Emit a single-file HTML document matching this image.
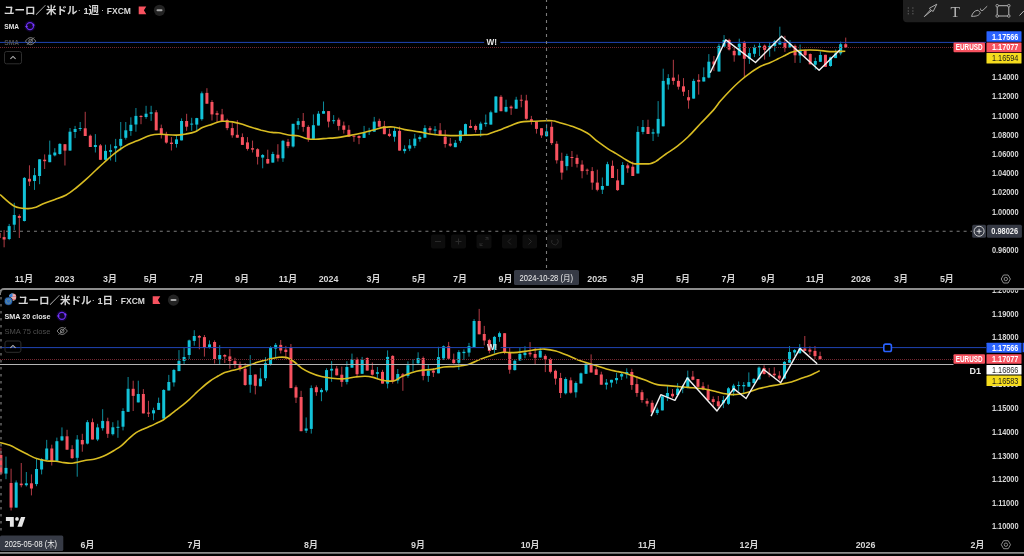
<!DOCTYPE html>
<html><head><meta charset="utf-8"><title>EURUSD</title>
<style>html,body{margin:0;padding:0;background:#000;width:1024px;height:556px;overflow:hidden} svg{display:block;will-change:transform}</style>
</head><body>
<svg width="1024" height="556" viewBox="0 0 1024 556" font-family="'Liberation Sans', 'Noto Sans CJK JP', sans-serif">
<rect width="1024" height="556" fill="#000"/>
<g clip-path="url(#cTop)">
<line x1="-0.96" y1="228.0" x2="-0.96" y2="240.0" stroke="#f7525f" stroke-width="1" stroke-opacity="0.72"/>
<rect x="-2.46" y="233.0" width="3" height="5.0" fill="#f7525f"/>
<line x1="4.11" y1="230.1" x2="4.11" y2="247.3" stroke="#f7525f" stroke-width="1" stroke-opacity="0.72"/>
<rect x="2.61" y="237.1" width="3" height="2.4" fill="#f7525f"/>
<line x1="9.18" y1="223.9" x2="9.18" y2="240.1" stroke="#12c2d8" stroke-width="1" stroke-opacity="0.72"/>
<rect x="7.68" y="226.1" width="3" height="12.9" fill="#12c2d8"/>
<line x1="14.25" y1="202.8" x2="14.25" y2="230.1" stroke="#12c2d8" stroke-width="1" stroke-opacity="0.72"/>
<rect x="12.75" y="215.0" width="3" height="9.7" fill="#12c2d8"/>
<line x1="19.32" y1="214.4" x2="19.32" y2="238.0" stroke="#f7525f" stroke-width="1" stroke-opacity="0.72"/>
<rect x="17.82" y="216.0" width="3" height="1.9" fill="#f7525f"/>
<line x1="24.39" y1="177.0" x2="24.39" y2="221.5" stroke="#12c2d8" stroke-width="1" stroke-opacity="0.72"/>
<rect x="22.89" y="177.9" width="3" height="43.1" fill="#12c2d8"/>
<line x1="29.46" y1="165.3" x2="29.46" y2="186.0" stroke="#f7525f" stroke-width="1" stroke-opacity="0.72"/>
<rect x="27.96" y="178.8" width="3" height="2.7" fill="#f7525f"/>
<line x1="34.53" y1="168.0" x2="34.53" y2="189.9" stroke="#12c2d8" stroke-width="1" stroke-opacity="0.72"/>
<rect x="33.03" y="175.2" width="3" height="5.8" fill="#12c2d8"/>
<line x1="39.60" y1="159.3" x2="39.60" y2="184.2" stroke="#12c2d8" stroke-width="1" stroke-opacity="0.72"/>
<rect x="38.10" y="159.3" width="3" height="16.7" fill="#12c2d8"/>
<line x1="44.67" y1="154.4" x2="44.67" y2="169.0" stroke="#f7525f" stroke-width="1" stroke-opacity="0.72"/>
<rect x="43.17" y="159.7" width="3" height="1.5" fill="#f7525f"/>
<line x1="49.74" y1="140.6" x2="49.74" y2="162.2" stroke="#12c2d8" stroke-width="1" stroke-opacity="0.72"/>
<rect x="48.24" y="154.7" width="3" height="7.5" fill="#12c2d8"/>
<line x1="54.81" y1="148.2" x2="54.81" y2="156.4" stroke="#12c2d8" stroke-width="1" stroke-opacity="0.72"/>
<rect x="53.31" y="152.5" width="3" height="2.9" fill="#12c2d8"/>
<line x1="59.88" y1="143.2" x2="59.88" y2="154.7" stroke="#12c2d8" stroke-width="1" stroke-opacity="0.72"/>
<rect x="58.38" y="143.9" width="3" height="10.1" fill="#12c2d8"/>
<line x1="64.95" y1="144.2" x2="64.95" y2="165.5" stroke="#f7525f" stroke-width="1" stroke-opacity="0.72"/>
<rect x="63.45" y="144.2" width="3" height="6.4" fill="#f7525f"/>
<line x1="70.02" y1="128.0" x2="70.02" y2="150.6" stroke="#12c2d8" stroke-width="1" stroke-opacity="0.72"/>
<rect x="68.52" y="131.7" width="3" height="18.9" fill="#12c2d8"/>
<line x1="75.09" y1="125.9" x2="75.09" y2="138.1" stroke="#12c2d8" stroke-width="1" stroke-opacity="0.72"/>
<rect x="73.59" y="129.0" width="3" height="3.0" fill="#12c2d8"/>
<line x1="80.16" y1="122.0" x2="80.16" y2="131.0" stroke="#12c2d8" stroke-width="1" stroke-opacity="0.72"/>
<rect x="78.66" y="128.0" width="3" height="1.0" fill="#12c2d8"/>
<line x1="85.23" y1="111.8" x2="85.23" y2="136.0" stroke="#f7525f" stroke-width="1" stroke-opacity="0.72"/>
<rect x="83.73" y="128.3" width="3" height="7.7" fill="#f7525f"/>
<line x1="90.30" y1="134.5" x2="90.30" y2="147.0" stroke="#f7525f" stroke-width="1" stroke-opacity="0.72"/>
<rect x="88.80" y="135.7" width="3" height="11.3" fill="#f7525f"/>
<line x1="95.37" y1="134.1" x2="95.37" y2="152.5" stroke="#12c2d8" stroke-width="1" stroke-opacity="0.72"/>
<rect x="93.87" y="145.0" width="3" height="2.0" fill="#12c2d8"/>
<line x1="100.44" y1="144.0" x2="100.44" y2="159.8" stroke="#f7525f" stroke-width="1" stroke-opacity="0.72"/>
<rect x="98.94" y="145.4" width="3" height="14.4" fill="#f7525f"/>
<line x1="105.51" y1="144.7" x2="105.51" y2="160.5" stroke="#12c2d8" stroke-width="1" stroke-opacity="0.72"/>
<rect x="104.01" y="150.9" width="3" height="8.9" fill="#12c2d8"/>
<line x1="110.58" y1="144.4" x2="110.58" y2="160.5" stroke="#12c2d8" stroke-width="1" stroke-opacity="0.72"/>
<rect x="109.08" y="150.1" width="3" height="1.8" fill="#12c2d8"/>
<line x1="115.65" y1="138.9" x2="115.65" y2="161.9" stroke="#12c2d8" stroke-width="1" stroke-opacity="0.72"/>
<rect x="114.15" y="146.1" width="3" height="2.2" fill="#12c2d8"/>
<line x1="120.72" y1="122.0" x2="120.72" y2="150.4" stroke="#12c2d8" stroke-width="1" stroke-opacity="0.72"/>
<rect x="119.22" y="138.9" width="3" height="6.9" fill="#12c2d8"/>
<line x1="125.79" y1="122.0" x2="125.79" y2="139.6" stroke="#12c2d8" stroke-width="1" stroke-opacity="0.72"/>
<rect x="124.29" y="130.3" width="3" height="7.5" fill="#12c2d8"/>
<line x1="130.86" y1="117.3" x2="130.86" y2="135.8" stroke="#12c2d8" stroke-width="1" stroke-opacity="0.72"/>
<rect x="129.36" y="124.8" width="3" height="6.2" fill="#12c2d8"/>
<line x1="135.93" y1="108.0" x2="135.93" y2="131.7" stroke="#12c2d8" stroke-width="1" stroke-opacity="0.72"/>
<rect x="134.43" y="115.9" width="3" height="8.6" fill="#12c2d8"/>
<line x1="141.00" y1="115.2" x2="141.00" y2="124.2" stroke="#f7525f" stroke-width="1" stroke-opacity="0.72"/>
<rect x="139.50" y="115.9" width="3" height="1.1" fill="#f7525f"/>
<line x1="146.07" y1="105.8" x2="146.07" y2="118.8" stroke="#12c2d8" stroke-width="1" stroke-opacity="0.72"/>
<rect x="144.57" y="113.7" width="3" height="3.3" fill="#12c2d8"/>
<line x1="151.14" y1="105.8" x2="151.14" y2="120.9" stroke="#12c2d8" stroke-width="1" stroke-opacity="0.72"/>
<rect x="149.64" y="112.3" width="3" height="1.4" fill="#12c2d8"/>
<line x1="156.21" y1="110.1" x2="156.21" y2="130.3" stroke="#f7525f" stroke-width="1" stroke-opacity="0.72"/>
<rect x="154.71" y="112.3" width="3" height="18.0" fill="#f7525f"/>
<line x1="161.28" y1="124.6" x2="161.28" y2="138.5" stroke="#f7525f" stroke-width="1" stroke-opacity="0.72"/>
<rect x="159.78" y="128.2" width="3" height="6.4" fill="#f7525f"/>
<line x1="166.35" y1="131.8" x2="166.35" y2="143.7" stroke="#f7525f" stroke-width="1" stroke-opacity="0.72"/>
<rect x="164.85" y="133.9" width="3" height="8.7" fill="#f7525f"/>
<line x1="171.42" y1="137.1" x2="171.42" y2="150.5" stroke="#f7525f" stroke-width="1" stroke-opacity="0.72"/>
<rect x="169.92" y="142.6" width="3" height="1.4" fill="#f7525f"/>
<line x1="176.49" y1="135.6" x2="176.49" y2="147.6" stroke="#12c2d8" stroke-width="1" stroke-opacity="0.72"/>
<rect x="174.99" y="139.4" width="3" height="4.6" fill="#12c2d8"/>
<line x1="181.56" y1="118.4" x2="181.56" y2="140.4" stroke="#12c2d8" stroke-width="1" stroke-opacity="0.72"/>
<rect x="180.06" y="121.0" width="3" height="19.4" fill="#12c2d8"/>
<line x1="186.63" y1="113.8" x2="186.63" y2="130.8" stroke="#f7525f" stroke-width="1" stroke-opacity="0.72"/>
<rect x="185.13" y="121.0" width="3" height="5.7" fill="#f7525f"/>
<line x1="191.70" y1="117.8" x2="191.70" y2="130.8" stroke="#12c2d8" stroke-width="1" stroke-opacity="0.72"/>
<rect x="190.20" y="123.6" width="3" height="1.0" fill="#12c2d8"/>
<line x1="196.77" y1="117.8" x2="196.77" y2="130.8" stroke="#12c2d8" stroke-width="1" stroke-opacity="0.72"/>
<rect x="195.27" y="118.1" width="3" height="6.5" fill="#12c2d8"/>
<line x1="201.84" y1="91.5" x2="201.84" y2="120.7" stroke="#12c2d8" stroke-width="1" stroke-opacity="0.72"/>
<rect x="200.34" y="93.3" width="3" height="25.9" fill="#12c2d8"/>
<line x1="206.91" y1="88.2" x2="206.91" y2="103.7" stroke="#f7525f" stroke-width="1" stroke-opacity="0.72"/>
<rect x="205.41" y="92.9" width="3" height="10.8" fill="#f7525f"/>
<line x1="211.98" y1="100.1" x2="211.98" y2="120.5" stroke="#f7525f" stroke-width="1" stroke-opacity="0.72"/>
<rect x="210.48" y="102.0" width="3" height="12.4" fill="#f7525f"/>
<line x1="217.05" y1="110.8" x2="217.05" y2="122.7" stroke="#f7525f" stroke-width="1" stroke-opacity="0.72"/>
<rect x="215.55" y="113.2" width="3" height="1.6" fill="#f7525f"/>
<line x1="222.12" y1="108.9" x2="222.12" y2="121.3" stroke="#f7525f" stroke-width="1" stroke-opacity="0.72"/>
<rect x="220.62" y="114.4" width="3" height="6.9" fill="#f7525f"/>
<line x1="227.19" y1="118.7" x2="227.19" y2="130.2" stroke="#f7525f" stroke-width="1" stroke-opacity="0.72"/>
<rect x="225.69" y="120.1" width="3" height="8.0" fill="#f7525f"/>
<line x1="232.26" y1="122.3" x2="232.26" y2="137.7" stroke="#f7525f" stroke-width="1" stroke-opacity="0.72"/>
<rect x="230.76" y="128.1" width="3" height="7.2" fill="#f7525f"/>
<line x1="237.33" y1="120.1" x2="237.33" y2="137.7" stroke="#f7525f" stroke-width="1" stroke-opacity="0.72"/>
<rect x="235.83" y="134.8" width="3" height="2.9" fill="#f7525f"/>
<line x1="242.40" y1="133.4" x2="242.40" y2="144.9" stroke="#f7525f" stroke-width="1" stroke-opacity="0.72"/>
<rect x="240.90" y="137.1" width="3" height="7.8" fill="#f7525f"/>
<line x1="247.47" y1="137.1" x2="247.47" y2="150.6" stroke="#f7525f" stroke-width="1" stroke-opacity="0.72"/>
<rect x="245.97" y="142.4" width="3" height="6.5" fill="#f7525f"/>
<line x1="252.54" y1="140.6" x2="252.54" y2="152.5" stroke="#f7525f" stroke-width="1" stroke-opacity="0.72"/>
<rect x="251.04" y="148.2" width="3" height="1.4" fill="#f7525f"/>
<line x1="257.61" y1="148.2" x2="257.61" y2="164.5" stroke="#f7525f" stroke-width="1" stroke-opacity="0.72"/>
<rect x="256.11" y="149.2" width="3" height="7.6" fill="#f7525f"/>
<line x1="262.68" y1="154.0" x2="262.68" y2="168.3" stroke="#12c2d8" stroke-width="1" stroke-opacity="0.72"/>
<rect x="261.18" y="155.0" width="3" height="2.6" fill="#12c2d8"/>
<line x1="267.75" y1="149.7" x2="267.75" y2="163.8" stroke="#f7525f" stroke-width="1" stroke-opacity="0.72"/>
<rect x="266.25" y="159.0" width="3" height="4.5" fill="#f7525f"/>
<line x1="272.82" y1="151.8" x2="272.82" y2="162.6" stroke="#12c2d8" stroke-width="1" stroke-opacity="0.72"/>
<rect x="271.32" y="154.0" width="3" height="8.6" fill="#12c2d8"/>
<line x1="277.89" y1="144.2" x2="277.89" y2="161.5" stroke="#f7525f" stroke-width="1" stroke-opacity="0.72"/>
<rect x="276.39" y="154.7" width="3" height="3.6" fill="#f7525f"/>
<line x1="282.96" y1="139.9" x2="282.96" y2="161.9" stroke="#12c2d8" stroke-width="1" stroke-opacity="0.72"/>
<rect x="281.46" y="140.8" width="3" height="17.5" fill="#12c2d8"/>
<line x1="288.03" y1="138.9" x2="288.03" y2="148.2" stroke="#f7525f" stroke-width="1" stroke-opacity="0.72"/>
<rect x="286.53" y="141.8" width="3" height="4.3" fill="#f7525f"/>
<line x1="293.10" y1="123.8" x2="293.10" y2="147.5" stroke="#12c2d8" stroke-width="1" stroke-opacity="0.72"/>
<rect x="291.60" y="123.8" width="3" height="22.7" fill="#12c2d8"/>
<line x1="298.17" y1="118.0" x2="298.17" y2="129.5" stroke="#12c2d8" stroke-width="1" stroke-opacity="0.72"/>
<rect x="296.67" y="121.2" width="3" height="3.7" fill="#12c2d8"/>
<line x1="303.24" y1="113.0" x2="303.24" y2="131.7" stroke="#f7525f" stroke-width="1" stroke-opacity="0.72"/>
<rect x="301.74" y="120.9" width="3" height="6.0" fill="#f7525f"/>
<line x1="308.31" y1="125.2" x2="308.31" y2="141.8" stroke="#f7525f" stroke-width="1" stroke-opacity="0.72"/>
<rect x="306.81" y="126.9" width="3" height="12.0" fill="#f7525f"/>
<line x1="313.38" y1="114.4" x2="313.38" y2="139.6" stroke="#12c2d8" stroke-width="1" stroke-opacity="0.72"/>
<rect x="311.88" y="125.2" width="3" height="13.7" fill="#12c2d8"/>
<line x1="318.45" y1="111.1" x2="318.45" y2="125.5" stroke="#12c2d8" stroke-width="1" stroke-opacity="0.72"/>
<rect x="316.95" y="113.7" width="3" height="11.8" fill="#12c2d8"/>
<line x1="323.52" y1="101.5" x2="323.52" y2="113.7" stroke="#12c2d8" stroke-width="1" stroke-opacity="0.72"/>
<rect x="322.02" y="111.1" width="3" height="2.6" fill="#12c2d8"/>
<line x1="328.59" y1="111.1" x2="328.59" y2="127.4" stroke="#f7525f" stroke-width="1" stroke-opacity="0.72"/>
<rect x="327.09" y="111.1" width="3" height="10.5" fill="#f7525f"/>
<line x1="333.66" y1="115.1" x2="333.66" y2="123.8" stroke="#12c2d8" stroke-width="1" stroke-opacity="0.72"/>
<rect x="332.16" y="120.2" width="3" height="1.0" fill="#12c2d8"/>
<line x1="338.73" y1="117.7" x2="338.73" y2="130.3" stroke="#f7525f" stroke-width="1" stroke-opacity="0.72"/>
<rect x="337.23" y="119.7" width="3" height="6.2" fill="#f7525f"/>
<line x1="343.80" y1="121.6" x2="343.80" y2="133.6" stroke="#f7525f" stroke-width="1" stroke-opacity="0.72"/>
<rect x="342.30" y="125.5" width="3" height="4.3" fill="#f7525f"/>
<line x1="348.87" y1="125.2" x2="348.87" y2="136.7" stroke="#f7525f" stroke-width="1" stroke-opacity="0.72"/>
<rect x="347.37" y="129.8" width="3" height="6.9" fill="#f7525f"/>
<line x1="353.94" y1="135.6" x2="353.94" y2="141.8" stroke="#f7525f" stroke-width="1" stroke-opacity="0.72"/>
<rect x="352.44" y="135.6" width="3" height="1.1" fill="#f7525f"/>
<line x1="359.01" y1="135.3" x2="359.01" y2="144.2" stroke="#f7525f" stroke-width="1" stroke-opacity="0.72"/>
<rect x="357.51" y="136.0" width="3" height="1.9" fill="#f7525f"/>
<line x1="364.08" y1="125.9" x2="364.08" y2="137.9" stroke="#12c2d8" stroke-width="1" stroke-opacity="0.72"/>
<rect x="362.58" y="132.7" width="3" height="5.2" fill="#12c2d8"/>
<line x1="369.15" y1="127.8" x2="369.15" y2="135.0" stroke="#12c2d8" stroke-width="1" stroke-opacity="0.72"/>
<rect x="367.65" y="131.0" width="3" height="1.1" fill="#12c2d8"/>
<line x1="374.22" y1="116.9" x2="374.22" y2="131.7" stroke="#12c2d8" stroke-width="1" stroke-opacity="0.72"/>
<rect x="372.72" y="121.6" width="3" height="10.1" fill="#12c2d8"/>
<line x1="379.29" y1="118.7" x2="379.29" y2="126.7" stroke="#f7525f" stroke-width="1" stroke-opacity="0.72"/>
<rect x="377.79" y="120.9" width="3" height="5.8" fill="#f7525f"/>
<line x1="384.36" y1="120.9" x2="384.36" y2="134.2" stroke="#f7525f" stroke-width="1" stroke-opacity="0.72"/>
<rect x="382.86" y="126.2" width="3" height="8.0" fill="#f7525f"/>
<line x1="389.43" y1="128.8" x2="389.43" y2="137.1" stroke="#f7525f" stroke-width="1" stroke-opacity="0.72"/>
<rect x="387.93" y="133.8" width="3" height="2.2" fill="#f7525f"/>
<line x1="394.50" y1="127.0" x2="394.50" y2="141.7" stroke="#12c2d8" stroke-width="1" stroke-opacity="0.72"/>
<rect x="393.00" y="130.9" width="3" height="5.8" fill="#12c2d8"/>
<line x1="399.57" y1="126.6" x2="399.57" y2="150.6" stroke="#f7525f" stroke-width="1" stroke-opacity="0.72"/>
<rect x="398.07" y="130.9" width="3" height="19.7" fill="#f7525f"/>
<line x1="404.64" y1="145.3" x2="404.64" y2="153.5" stroke="#12c2d8" stroke-width="1" stroke-opacity="0.72"/>
<rect x="403.14" y="148.9" width="3" height="2.2" fill="#12c2d8"/>
<line x1="409.71" y1="139.1" x2="409.71" y2="151.1" stroke="#12c2d8" stroke-width="1" stroke-opacity="0.72"/>
<rect x="408.21" y="145.3" width="3" height="3.3" fill="#12c2d8"/>
<line x1="414.78" y1="133.8" x2="414.78" y2="148.2" stroke="#12c2d8" stroke-width="1" stroke-opacity="0.72"/>
<rect x="413.28" y="138.6" width="3" height="7.2" fill="#12c2d8"/>
<line x1="419.85" y1="135.3" x2="419.85" y2="141.7" stroke="#12c2d8" stroke-width="1" stroke-opacity="0.72"/>
<rect x="418.35" y="137.1" width="3" height="2.0" fill="#12c2d8"/>
<line x1="424.92" y1="125.2" x2="424.92" y2="137.7" stroke="#12c2d8" stroke-width="1" stroke-opacity="0.72"/>
<rect x="423.42" y="128.1" width="3" height="9.6" fill="#12c2d8"/>
<line x1="429.99" y1="126.2" x2="429.99" y2="134.5" stroke="#f7525f" stroke-width="1" stroke-opacity="0.72"/>
<rect x="428.49" y="128.1" width="3" height="2.1" fill="#f7525f"/>
<line x1="435.06" y1="126.1" x2="435.06" y2="135.3" stroke="#12c2d8" stroke-width="1" stroke-opacity="0.72"/>
<rect x="433.56" y="129.5" width="3" height="1.1" fill="#12c2d8"/>
<line x1="440.13" y1="123.1" x2="440.13" y2="135.4" stroke="#f7525f" stroke-width="1" stroke-opacity="0.72"/>
<rect x="438.63" y="130.3" width="3" height="5.1" fill="#f7525f"/>
<line x1="445.20" y1="129.9" x2="445.20" y2="147.6" stroke="#f7525f" stroke-width="1" stroke-opacity="0.72"/>
<rect x="443.70" y="136.8" width="3" height="7.2" fill="#f7525f"/>
<line x1="450.27" y1="138.0" x2="450.27" y2="146.9" stroke="#f7525f" stroke-width="1" stroke-opacity="0.72"/>
<rect x="448.77" y="143.7" width="3" height="2.0" fill="#f7525f"/>
<line x1="455.34" y1="140.0" x2="455.34" y2="147.2" stroke="#12c2d8" stroke-width="1" stroke-opacity="0.72"/>
<rect x="453.84" y="142.8" width="3" height="4.4" fill="#12c2d8"/>
<line x1="460.41" y1="129.9" x2="460.41" y2="142.8" stroke="#12c2d8" stroke-width="1" stroke-opacity="0.72"/>
<rect x="458.91" y="130.8" width="3" height="10.0" fill="#12c2d8"/>
<line x1="465.48" y1="123.6" x2="465.48" y2="135.1" stroke="#12c2d8" stroke-width="1" stroke-opacity="0.72"/>
<rect x="463.98" y="124.1" width="3" height="11.0" fill="#12c2d8"/>
<line x1="470.55" y1="119.8" x2="470.55" y2="127.9" stroke="#f7525f" stroke-width="1" stroke-opacity="0.72"/>
<rect x="469.05" y="126.0" width="3" height="1.9" fill="#f7525f"/>
<line x1="475.62" y1="124.6" x2="475.62" y2="132.5" stroke="#f7525f" stroke-width="1" stroke-opacity="0.72"/>
<rect x="474.12" y="126.0" width="3" height="3.9" fill="#f7525f"/>
<line x1="480.69" y1="121.7" x2="480.69" y2="136.8" stroke="#12c2d8" stroke-width="1" stroke-opacity="0.72"/>
<rect x="479.19" y="123.6" width="3" height="6.3" fill="#12c2d8"/>
<line x1="485.76" y1="114.5" x2="485.76" y2="126.7" stroke="#12c2d8" stroke-width="1" stroke-opacity="0.72"/>
<rect x="484.26" y="122.7" width="3" height="1.4" fill="#12c2d8"/>
<line x1="490.83" y1="110.6" x2="490.83" y2="124.6" stroke="#12c2d8" stroke-width="1" stroke-opacity="0.72"/>
<rect x="489.33" y="112.3" width="3" height="12.3" fill="#12c2d8"/>
<line x1="495.90" y1="96.2" x2="495.90" y2="112.6" stroke="#12c2d8" stroke-width="1" stroke-opacity="0.72"/>
<rect x="494.40" y="96.5" width="3" height="16.1" fill="#12c2d8"/>
<line x1="500.97" y1="95.1" x2="500.97" y2="111.2" stroke="#f7525f" stroke-width="1" stroke-opacity="0.72"/>
<rect x="499.47" y="96.8" width="3" height="14.4" fill="#f7525f"/>
<line x1="506.04" y1="99.7" x2="506.04" y2="112.3" stroke="#12c2d8" stroke-width="1" stroke-opacity="0.72"/>
<rect x="504.54" y="106.9" width="3" height="4.7" fill="#12c2d8"/>
<line x1="511.11" y1="105.4" x2="511.11" y2="114.9" stroke="#f7525f" stroke-width="1" stroke-opacity="0.72"/>
<rect x="509.61" y="106.6" width="3" height="1.7" fill="#f7525f"/>
<line x1="516.18" y1="96.8" x2="516.18" y2="108.7" stroke="#12c2d8" stroke-width="1" stroke-opacity="0.72"/>
<rect x="514.68" y="99.7" width="3" height="9.0" fill="#12c2d8"/>
<line x1="521.25" y1="94.8" x2="521.25" y2="107.3" stroke="#f7525f" stroke-width="1" stroke-opacity="0.72"/>
<rect x="519.75" y="99.7" width="3" height="1.0" fill="#f7525f"/>
<line x1="526.32" y1="94.8" x2="526.32" y2="119.8" stroke="#f7525f" stroke-width="1" stroke-opacity="0.72"/>
<rect x="524.82" y="100.5" width="3" height="18.3" fill="#f7525f"/>
<line x1="531.39" y1="115.9" x2="531.39" y2="124.6" stroke="#f7525f" stroke-width="1" stroke-opacity="0.72"/>
<rect x="529.89" y="119.2" width="3" height="2.5" fill="#f7525f"/>
<line x1="536.46" y1="121.7" x2="536.46" y2="133.6" stroke="#f7525f" stroke-width="1" stroke-opacity="0.72"/>
<rect x="534.96" y="121.7" width="3" height="7.2" fill="#f7525f"/>
<line x1="541.53" y1="128.2" x2="541.53" y2="137.9" stroke="#f7525f" stroke-width="1" stroke-opacity="0.72"/>
<rect x="540.03" y="128.2" width="3" height="7.2" fill="#f7525f"/>
<line x1="546.60" y1="123.9" x2="546.60" y2="136.7" stroke="#12c2d8" stroke-width="1" stroke-opacity="0.72"/>
<rect x="545.10" y="131.4" width="3" height="4.8" fill="#12c2d8"/>
<line x1="551.67" y1="121.5" x2="551.67" y2="145.0" stroke="#f7525f" stroke-width="1" stroke-opacity="0.72"/>
<rect x="550.17" y="126.8" width="3" height="16.3" fill="#f7525f"/>
<line x1="556.74" y1="141.2" x2="556.74" y2="163.6" stroke="#f7525f" stroke-width="1" stroke-opacity="0.72"/>
<rect x="555.24" y="143.8" width="3" height="16.5" fill="#f7525f"/>
<line x1="561.81" y1="152.7" x2="561.81" y2="179.7" stroke="#f7525f" stroke-width="1" stroke-opacity="0.72"/>
<rect x="560.31" y="160.8" width="3" height="11.8" fill="#f7525f"/>
<line x1="566.88" y1="153.8" x2="566.88" y2="170.4" stroke="#12c2d8" stroke-width="1" stroke-opacity="0.72"/>
<rect x="565.38" y="156.0" width="3" height="10.1" fill="#12c2d8"/>
<line x1="571.95" y1="151.0" x2="571.95" y2="166.8" stroke="#f7525f" stroke-width="1" stroke-opacity="0.72"/>
<rect x="570.45" y="157.0" width="3" height="1.0" fill="#f7525f"/>
<line x1="577.02" y1="154.6" x2="577.02" y2="167.5" stroke="#f7525f" stroke-width="1" stroke-opacity="0.72"/>
<rect x="575.52" y="157.9" width="3" height="6.0" fill="#f7525f"/>
<line x1="582.09" y1="160.3" x2="582.09" y2="178.3" stroke="#f7525f" stroke-width="1" stroke-opacity="0.72"/>
<rect x="580.59" y="164.6" width="3" height="6.5" fill="#f7525f"/>
<line x1="587.16" y1="168.5" x2="587.16" y2="174.7" stroke="#f7525f" stroke-width="1" stroke-opacity="0.72"/>
<rect x="585.66" y="169.7" width="3" height="1.0" fill="#f7525f"/>
<line x1="592.23" y1="167.1" x2="592.23" y2="189.8" stroke="#f7525f" stroke-width="1" stroke-opacity="0.72"/>
<rect x="590.73" y="171.1" width="3" height="11.5" fill="#f7525f"/>
<line x1="597.30" y1="169.7" x2="597.30" y2="191.3" stroke="#f7525f" stroke-width="1" stroke-opacity="0.72"/>
<rect x="595.80" y="182.6" width="3" height="7.2" fill="#f7525f"/>
<line x1="602.37" y1="177.5" x2="602.37" y2="194.0" stroke="#12c2d8" stroke-width="1" stroke-opacity="0.72"/>
<rect x="600.87" y="186.0" width="3" height="3.7" fill="#12c2d8"/>
<line x1="607.44" y1="161.8" x2="607.44" y2="185.8" stroke="#12c2d8" stroke-width="1" stroke-opacity="0.72"/>
<rect x="605.94" y="164.2" width="3" height="21.6" fill="#12c2d8"/>
<line x1="612.51" y1="160.5" x2="612.51" y2="178.0" stroke="#f7525f" stroke-width="1" stroke-opacity="0.72"/>
<rect x="611.01" y="165.8" width="3" height="12.2" fill="#f7525f"/>
<line x1="617.58" y1="169.1" x2="617.58" y2="190.9" stroke="#f7525f" stroke-width="1" stroke-opacity="0.72"/>
<rect x="616.08" y="180.4" width="3" height="9.7" fill="#f7525f"/>
<line x1="622.65" y1="162.1" x2="622.65" y2="184.8" stroke="#12c2d8" stroke-width="1" stroke-opacity="0.72"/>
<rect x="621.15" y="165.0" width="3" height="19.8" fill="#12c2d8"/>
<line x1="627.72" y1="163.4" x2="627.72" y2="172.8" stroke="#f7525f" stroke-width="1" stroke-opacity="0.72"/>
<rect x="626.22" y="165.4" width="3" height="2.9" fill="#f7525f"/>
<line x1="632.79" y1="161.5" x2="632.79" y2="176.0" stroke="#f7525f" stroke-width="1" stroke-opacity="0.72"/>
<rect x="631.29" y="166.7" width="3" height="9.3" fill="#f7525f"/>
<line x1="637.86" y1="126.2" x2="637.86" y2="173.5" stroke="#12c2d8" stroke-width="1" stroke-opacity="0.72"/>
<rect x="636.36" y="131.9" width="3" height="41.6" fill="#12c2d8"/>
<line x1="642.93" y1="120.0" x2="642.93" y2="134.3" stroke="#12c2d8" stroke-width="1" stroke-opacity="0.72"/>
<rect x="641.43" y="127.0" width="3" height="4.9" fill="#12c2d8"/>
<line x1="648.00" y1="119.7" x2="648.00" y2="134.0" stroke="#f7525f" stroke-width="1" stroke-opacity="0.72"/>
<rect x="646.50" y="127.0" width="3" height="7.0" fill="#f7525f"/>
<line x1="653.07" y1="128.8" x2="653.07" y2="141.0" stroke="#12c2d8" stroke-width="1" stroke-opacity="0.72"/>
<rect x="651.57" y="132.3" width="3" height="1.3" fill="#12c2d8"/>
<line x1="658.14" y1="101.1" x2="658.14" y2="136.8" stroke="#12c2d8" stroke-width="1" stroke-opacity="0.72"/>
<rect x="656.64" y="118.9" width="3" height="14.6" fill="#12c2d8"/>
<line x1="663.21" y1="68.7" x2="663.21" y2="126.3" stroke="#12c2d8" stroke-width="1" stroke-opacity="0.72"/>
<rect x="661.71" y="80.9" width="3" height="45.4" fill="#12c2d8"/>
<line x1="668.28" y1="74.2" x2="668.28" y2="89.6" stroke="#12c2d8" stroke-width="1" stroke-opacity="0.72"/>
<rect x="666.78" y="78.1" width="3" height="6.4" fill="#12c2d8"/>
<line x1="673.35" y1="59.8" x2="673.35" y2="84.8" stroke="#f7525f" stroke-width="1" stroke-opacity="0.72"/>
<rect x="671.85" y="77.6" width="3" height="3.3" fill="#f7525f"/>
<line x1="678.42" y1="74.5" x2="678.42" y2="89.6" stroke="#f7525f" stroke-width="1" stroke-opacity="0.72"/>
<rect x="676.92" y="80.9" width="3" height="5.8" fill="#f7525f"/>
<line x1="683.49" y1="78.1" x2="683.49" y2="96.0" stroke="#f7525f" stroke-width="1" stroke-opacity="0.72"/>
<rect x="681.99" y="86.3" width="3" height="5.4" fill="#f7525f"/>
<line x1="688.56" y1="90.0" x2="688.56" y2="108.7" stroke="#f7525f" stroke-width="1" stroke-opacity="0.72"/>
<rect x="687.06" y="97.2" width="3" height="3.2" fill="#f7525f"/>
<line x1="693.63" y1="78.8" x2="693.63" y2="98.6" stroke="#12c2d8" stroke-width="1" stroke-opacity="0.72"/>
<rect x="692.13" y="80.9" width="3" height="17.7" fill="#12c2d8"/>
<line x1="698.70" y1="74.2" x2="698.70" y2="94.6" stroke="#f7525f" stroke-width="1" stroke-opacity="0.72"/>
<rect x="697.20" y="79.9" width="3" height="1.8" fill="#f7525f"/>
<line x1="703.77" y1="67.4" x2="703.77" y2="81.5" stroke="#12c2d8" stroke-width="1" stroke-opacity="0.72"/>
<rect x="702.27" y="77.2" width="3" height="4.3" fill="#12c2d8"/>
<line x1="708.84" y1="54.1" x2="708.84" y2="78.3" stroke="#12c2d8" stroke-width="1" stroke-opacity="0.72"/>
<rect x="707.34" y="61.7" width="3" height="15.9" fill="#12c2d8"/>
<line x1="713.91" y1="56.0" x2="713.91" y2="71.1" stroke="#f7525f" stroke-width="1" stroke-opacity="0.72"/>
<rect x="712.41" y="61.5" width="3" height="3.0" fill="#f7525f"/>
<line x1="718.98" y1="43.7" x2="718.98" y2="71.5" stroke="#12c2d8" stroke-width="1" stroke-opacity="0.72"/>
<rect x="717.48" y="45.9" width="3" height="25.6" fill="#12c2d8"/>
<line x1="724.05" y1="35.1" x2="724.05" y2="46.6" stroke="#12c2d8" stroke-width="1" stroke-opacity="0.72"/>
<rect x="722.55" y="40.1" width="3" height="6.5" fill="#12c2d8"/>
<line x1="729.12" y1="38.7" x2="729.12" y2="50.5" stroke="#f7525f" stroke-width="1" stroke-opacity="0.72"/>
<rect x="727.62" y="39.9" width="3" height="9.6" fill="#f7525f"/>
<line x1="734.19" y1="47.3" x2="734.19" y2="61.7" stroke="#f7525f" stroke-width="1" stroke-opacity="0.72"/>
<rect x="732.69" y="50.9" width="3" height="4.4" fill="#f7525f"/>
<line x1="739.26" y1="38.7" x2="739.26" y2="55.3" stroke="#12c2d8" stroke-width="1" stroke-opacity="0.72"/>
<rect x="737.76" y="43.7" width="3" height="11.6" fill="#12c2d8"/>
<line x1="744.33" y1="40.9" x2="744.33" y2="77.6" stroke="#f7525f" stroke-width="1" stroke-opacity="0.72"/>
<rect x="742.83" y="41.9" width="3" height="16.9" fill="#f7525f"/>
<line x1="749.40" y1="48.1" x2="749.40" y2="63.9" stroke="#12c2d8" stroke-width="1" stroke-opacity="0.72"/>
<rect x="747.90" y="53.1" width="3" height="5.7" fill="#12c2d8"/>
<line x1="754.47" y1="44.7" x2="754.47" y2="57.1" stroke="#12c2d8" stroke-width="1" stroke-opacity="0.72"/>
<rect x="752.97" y="47.3" width="3" height="6.5" fill="#12c2d8"/>
<line x1="759.54" y1="43.0" x2="759.54" y2="56.0" stroke="#12c2d8" stroke-width="1" stroke-opacity="0.72"/>
<rect x="758.04" y="45.9" width="3" height="1.4" fill="#12c2d8"/>
<line x1="764.61" y1="44.5" x2="764.61" y2="59.6" stroke="#f7525f" stroke-width="1" stroke-opacity="0.72"/>
<rect x="763.11" y="45.6" width="3" height="4.3" fill="#f7525f"/>
<line x1="769.68" y1="41.9" x2="769.68" y2="56.7" stroke="#12c2d8" stroke-width="1" stroke-opacity="0.72"/>
<rect x="768.18" y="45.9" width="3" height="2.9" fill="#12c2d8"/>
<line x1="774.75" y1="39.9" x2="774.75" y2="51.4" stroke="#12c2d8" stroke-width="1" stroke-opacity="0.72"/>
<rect x="773.25" y="41.3" width="3" height="4.6" fill="#12c2d8"/>
<line x1="779.82" y1="26.7" x2="779.82" y2="44.5" stroke="#12c2d8" stroke-width="1" stroke-opacity="0.72"/>
<rect x="778.32" y="41.6" width="3" height="2.9" fill="#12c2d8"/>
<line x1="784.89" y1="35.8" x2="784.89" y2="51.9" stroke="#f7525f" stroke-width="1" stroke-opacity="0.72"/>
<rect x="783.39" y="42.3" width="3" height="5.8" fill="#f7525f"/>
<line x1="789.96" y1="40.1" x2="789.96" y2="48.1" stroke="#12c2d8" stroke-width="1" stroke-opacity="0.72"/>
<rect x="788.46" y="43.7" width="3" height="3.6" fill="#12c2d8"/>
<line x1="795.03" y1="44.5" x2="795.03" y2="62.9" stroke="#f7525f" stroke-width="1" stroke-opacity="0.72"/>
<rect x="793.53" y="45.9" width="3" height="9.4" fill="#f7525f"/>
<line x1="800.10" y1="44.5" x2="800.10" y2="62.9" stroke="#12c2d8" stroke-width="1" stroke-opacity="0.72"/>
<rect x="798.60" y="51.0" width="3" height="4.5" fill="#12c2d8"/>
<line x1="805.17" y1="49.5" x2="805.17" y2="56.7" stroke="#f7525f" stroke-width="1" stroke-opacity="0.72"/>
<rect x="803.67" y="50.4" width="3" height="4.9" fill="#f7525f"/>
<line x1="810.24" y1="53.4" x2="810.24" y2="64.3" stroke="#f7525f" stroke-width="1" stroke-opacity="0.72"/>
<rect x="808.74" y="54.0" width="3" height="10.3" fill="#f7525f"/>
<line x1="815.31" y1="57.7" x2="815.31" y2="69.6" stroke="#12c2d8" stroke-width="1" stroke-opacity="0.72"/>
<rect x="813.81" y="61.0" width="3" height="3.7" fill="#12c2d8"/>
<line x1="820.38" y1="51.4" x2="820.38" y2="62.0" stroke="#12c2d8" stroke-width="1" stroke-opacity="0.72"/>
<rect x="818.88" y="55.0" width="3" height="6.8" fill="#12c2d8"/>
<line x1="825.45" y1="54.8" x2="825.45" y2="66.8" stroke="#f7525f" stroke-width="1" stroke-opacity="0.72"/>
<rect x="823.95" y="54.8" width="3" height="12.0" fill="#f7525f"/>
<line x1="830.52" y1="56.7" x2="830.52" y2="66.8" stroke="#12c2d8" stroke-width="1" stroke-opacity="0.72"/>
<rect x="829.02" y="57.4" width="3" height="8.6" fill="#12c2d8"/>
<line x1="835.59" y1="49.5" x2="835.59" y2="58.1" stroke="#12c2d8" stroke-width="1" stroke-opacity="0.72"/>
<rect x="834.09" y="53.4" width="3" height="4.7" fill="#12c2d8"/>
<line x1="840.66" y1="41.6" x2="840.66" y2="55.3" stroke="#12c2d8" stroke-width="1" stroke-opacity="0.72"/>
<rect x="839.16" y="44.2" width="3" height="9.2" fill="#12c2d8"/>
<line x1="845.73" y1="37.6" x2="845.73" y2="47.6" stroke="#f7525f" stroke-width="1" stroke-opacity="0.72"/>
<rect x="844.23" y="44.2" width="3" height="3.4" fill="#f7525f"/>
<path d="M0.0,194.5 C2.4,196.5 9.9,204.0 14.4,206.3 C18.9,208.7 23.7,208.4 27.3,208.6 C30.9,208.8 33.4,208.0 36.0,207.2 C38.6,206.4 40.0,205.0 43.2,203.7 C46.4,202.4 51.2,200.9 55.0,199.5 C58.8,198.1 62.7,196.9 66.2,195.0 C69.7,193.1 72.7,190.6 76.0,188.0 C79.3,185.4 83.0,182.2 86.3,179.2 C89.6,176.2 93.1,172.7 96.0,170.0 C98.9,167.3 100.9,165.4 103.6,163.0 C106.3,160.6 109.2,157.8 112.0,155.5 C114.8,153.2 117.8,150.8 120.5,149.0 C123.2,147.2 125.4,145.8 128.0,144.5 C130.6,143.2 132.5,142.6 136.3,141.1 C140.1,139.6 146.8,136.4 150.7,135.3 C154.6,134.2 155.7,134.3 160.0,134.3 C164.3,134.3 172.1,135.2 176.5,135.1 C180.9,135.0 183.4,134.4 186.5,133.9 C189.6,133.4 192.5,132.9 195.2,131.8 C197.8,130.7 199.9,128.6 202.4,127.5 C204.9,126.4 207.7,125.8 210.0,125.0 C212.3,124.2 213.9,123.3 216.0,122.7 C218.1,122.1 219.7,121.4 222.4,121.3 C225.2,121.2 229.2,121.4 232.5,121.9 C235.8,122.4 239.4,123.3 242.5,124.2 C245.6,125.1 248.1,126.3 251.2,127.3 C254.3,128.3 257.7,129.3 261.2,130.2 C264.7,131.0 269.1,132.0 272.0,132.4 C274.9,132.8 275.6,132.4 278.4,132.8 C281.1,133.2 285.3,134.5 288.5,135.0 C291.7,135.5 294.7,135.2 297.8,135.8 C300.9,136.4 304.2,138.1 307.2,138.7 C310.2,139.3 312.3,139.4 315.8,139.3 C319.3,139.2 324.9,138.4 328.0,138.2 C331.1,138.0 330.9,138.3 334.4,137.9 C337.9,137.5 344.0,136.5 348.8,135.6 C353.6,134.7 358.9,133.7 363.2,132.7 C367.5,131.7 371.4,130.6 374.7,129.7 C378.0,128.8 380.1,127.9 383.2,127.4 C386.3,127.0 389.7,126.6 393.3,127.0 C396.9,127.4 400.5,128.8 404.8,129.6 C409.1,130.4 414.7,131.1 419.2,131.9 C423.7,132.7 427.5,133.6 432.0,134.2 C436.5,134.8 442.3,135.2 446.4,135.4 C450.5,135.6 452.9,135.7 456.5,135.6 C460.1,135.5 463.7,135.3 468.0,135.1 C472.3,134.9 479.1,134.8 482.4,134.6 C485.7,134.4 485.7,134.8 488.0,134.2 C490.3,133.6 493.6,132.2 496.0,131.3 C498.4,130.4 499.9,129.9 502.4,128.9 C504.9,127.9 508.0,126.6 511.0,125.5 C514.0,124.4 517.0,122.8 520.4,122.1 C523.8,121.4 527.0,121.5 531.2,121.3 C535.4,121.1 542.0,120.8 545.6,120.7 C549.2,120.6 550.5,120.5 552.6,120.8 C554.7,121.0 555.0,121.2 558.4,122.2 C561.8,123.2 568.0,124.7 572.8,126.5 C577.6,128.3 583.1,130.6 587.2,133.0 C591.3,135.4 593.7,138.6 597.2,141.2 C600.7,143.8 604.8,146.7 608.0,148.8 C611.2,150.9 613.5,152.0 616.2,153.6 C618.9,155.2 621.2,157.0 624.0,158.6 C626.8,160.2 630.0,162.5 633.0,163.4 C636.0,164.3 639.2,163.8 642.0,163.8 C644.8,163.9 647.8,164.1 650.0,163.7 C652.2,163.3 654.0,162.3 655.5,161.6 C657.0,160.8 657.3,160.5 659.0,159.2 C660.7,157.9 662.8,156.2 665.9,154.0 C669.0,151.8 673.7,149.0 677.4,146.1 C681.1,143.2 684.4,140.5 688.2,136.8 C692.0,133.1 696.2,128.2 700.4,123.8 C704.6,119.3 710.0,113.9 713.4,110.1 C716.8,106.3 717.7,104.1 720.6,100.8 C723.5,97.5 727.3,93.4 730.6,90.0 C733.9,86.6 737.3,83.4 740.6,80.5 C743.9,77.6 747.1,75.1 750.4,72.8 C753.7,70.5 756.9,68.2 760.2,66.5 C763.5,64.8 767.4,63.9 770.4,62.6 C773.4,61.3 775.7,60.0 778.1,58.8 C780.5,57.6 782.9,56.5 785.0,55.5 C787.1,54.5 788.8,53.4 790.6,52.6 C792.4,51.9 794.2,51.4 796.0,51.0 C797.8,50.6 798.1,50.3 801.6,50.2 C805.1,50.1 812.5,50.0 817.2,50.2 C821.9,50.4 825.0,51.4 829.7,51.6 C834.4,51.8 842.7,51.3 845.3,51.3" stroke="#d8bc22" stroke-width="1.6" fill="none"/>
</g>
<line x1="0" y1="42.4" x2="484.2" y2="42.4" stroke="#1f45b5" stroke-width="1"/>
<line x1="500.3" y1="42.4" x2="986" y2="42.4" stroke="#1f45b5" stroke-width="1"/>
<text x="486.6" y="44.6" font-size="9" font-weight="bold" fill="#e8e8e8" textLength="10.5" lengthAdjust="spacingAndGlyphs">W!</text>
<line x1="0" y1="47.5" x2="953.5" y2="47.5" stroke="#742630" stroke-width="1" stroke-dasharray="1 1"/>
<polyline points="710.2,72.7 725.8,39.8 755.5,62.5 781.6,36.2 819.1,70.3 839.8,50.0" stroke="#f2f2f2" stroke-width="1.45" fill="none" stroke-linejoin="round"/>
<line x1="546.5" y1="0" x2="546.5" y2="268" stroke="#7c7c7c" stroke-width="1.1" stroke-dasharray="3 4" stroke-dashoffset="1.1"/>
<line x1="0" y1="231.3" x2="972" y2="231.3" stroke="#7c7c7c" stroke-width="1.1" stroke-dasharray="3 3.99" stroke-dashoffset="0.99"/>
<rect x="431" y="234.5" width="14.3" height="14" rx="2" fill="#0d0d0d"/>
<rect x="451" y="234.5" width="15.0" height="14" rx="2" fill="#0d0d0d"/>
<rect x="476.5" y="234.5" width="15.0" height="14" rx="2" fill="#0d0d0d"/>
<rect x="502" y="234.5" width="15.0" height="14" rx="2" fill="#0d0d0d"/>
<rect x="522.5" y="234.5" width="14.5" height="14" rx="2" fill="#0d0d0d"/>
<rect x="547" y="234.5" width="15.0" height="14" rx="2" fill="#0d0d0d"/>
<line x1="435" y1="241.5" x2="441" y2="241.5" stroke="#2a2a2a" stroke-width="1"/>
<path d="M455.5,241.5 h6 M458.5,238.5 v6" stroke="#2a2a2a" stroke-width="1"/>
<path d="M485.5,237.5 h2.5 v2.5 M488,237.5 l-2.5,2.5 M480,243 v2.5 h2.5 M480,245.5 l2.5,-2.5" stroke="#2a2a2a" stroke-width="1" fill="none"/>
<path d="M511,238.5 l-3,3 l3,3" stroke="#2a2a2a" stroke-width="1" fill="none"/>
<path d="M528.5,238.5 l3,3 l-3,3" stroke="#2a2a2a" stroke-width="1" fill="none"/>
<path d="M557,239 A3.3,3.3 0 1 1 552,240" stroke="#2a2a2a" stroke-width="1" fill="none"/>
<text x="4" y="14.2" font-size="10.5" font-weight="700" fill="#d8d8d8" font-family="'Noto Sans CJK JP', sans-serif">ユーロ／米ドル</text><text x="79.3" y="13.2" font-size="9" fill="#d8d8d8" text-anchor="middle">·</text><text x="83.5" y="14.2" font-size="9.4" font-weight="bold" fill="#d8d8d8">1</text><text x="88.6" y="14.2" font-size="10.5" font-weight="700" fill="#d8d8d8" font-family="'Noto Sans CJK JP', sans-serif">週</text><text x="102.4" y="13.2" font-size="9" fill="#d8d8d8" text-anchor="middle">·</text><text x="106.8" y="14.2" font-size="8.9" font-weight="bold" fill="#d8d8d8" textLength="24.2" lengthAdjust="spacingAndGlyphs">FXCM</text><path d="M138.7,6.3999999999999995 h7.6 l-2.4,3.9 l2.4,3.9 h-7.6 z" fill="#f7525f"/><circle cx="159.5" cy="10.299999999999999" r="5.6" fill="#232323"/><rect x="156.5" y="9.299999999999999" width="6" height="2" rx="1" fill="#a8a8a8"/>
<text x="4.3" y="29.1" font-size="8" font-weight="bold" fill="#e4e4e4" textLength="14.7" lengthAdjust="spacingAndGlyphs">SMA</text>
<circle cx="30" cy="26.1" r="5.6" fill="#3a10a0" opacity="0.28"/><circle cx="30" cy="26.1" r="3.5" fill="none" stroke="#6a2cf0" stroke-width="1.25"/><path d="M25,25.900000000000002 L28,25.900000000000002 L26.5,28.0 z" fill="#7a3cff"/><path d="M35,25.5 L32,25.5 L33.5,23.400000000000002 z" fill="#7a3cff"/>
<text x="4.3" y="44.7" font-size="8" font-weight="bold" fill="#505050" textLength="14.7" lengthAdjust="spacingAndGlyphs">SMA</text>
<path d="M25.400000000000002,41.1 Q30.6,33.9 35.800000000000004,41.1 Q30.6,48.300000000000004 25.400000000000002,41.1 z" stroke="#8a8a8a" stroke-width="0.9" fill="none"/><circle cx="30.6" cy="41.1" r="1.8" stroke="#8a8a8a" stroke-width="0.9" fill="none"/><line x1="27.0" y1="44.800000000000004" x2="34.2" y2="37.4" stroke="#8a8a8a" stroke-width="0.9"/>
<rect x="4.5" y="51.5" width="17" height="12.299999999999997" rx="2" fill="none" stroke="#2e2e2e" stroke-width="1"/><path d="M10.4,58.85 L13.0,56.449999999999996 L15.6,58.85" stroke="#b0b0b0" stroke-width="1.1" fill="none"/>
<path d="M907,0 H1024 V22.2 H907 A4,4 0 0 1 903,18.2 V0 z" fill="#1e1e1e"/>
<circle cx="908.3" cy="7.9" r="0.75" fill="#5a5a5a"/>
<circle cx="908.3" cy="10.9" r="0.75" fill="#5a5a5a"/>
<circle cx="908.3" cy="13.8" r="0.75" fill="#5a5a5a"/>
<circle cx="912.9" cy="7.9" r="0.75" fill="#5a5a5a"/>
<circle cx="912.9" cy="10.9" r="0.75" fill="#5a5a5a"/>
<circle cx="912.9" cy="13.8" r="0.75" fill="#5a5a5a"/>
<path d="M924.3,16.6 L930.5,9.8 L929.5,8.2 L936.8,4.2 L933.2,11.4 L931.6,10.6 Z M930.5,9.8 L931.6,10.6" stroke="#b8b8b8" stroke-width="0.9" fill="none" stroke-linejoin="round"/>
<text x="955.2" y="16.6" text-anchor="middle" font-family="'Liberation Serif', serif" font-size="15.5" fill="#b8b8b8">T</text>
<path d="M971.5,16.4 C972.5,13 974.5,10.5 978,10.2 L980.2,12.4 C979.8,15.2 977,16.4 971.5,16.4 Z" stroke="#b8b8b8" stroke-width="0.9" fill="none"/><path d="M980.5,8.6 C980.4,10.5 981.5,11.2 983,10.2 L987.2,6.2" stroke="#b8b8b8" stroke-width="0.9" fill="none"/>
<rect x="997.2" y="5.7" width="11.6" height="10.3" fill="none" stroke="#b8b8b8" stroke-width="1"/>
<circle cx="997.2" cy="5.7" r="1.3" fill="#1e1e1e" stroke="#b8b8b8" stroke-width="0.8"/>
<circle cx="1008.8" cy="5.7" r="1.3" fill="#1e1e1e" stroke="#b8b8b8" stroke-width="0.8"/>
<circle cx="997.2" cy="16" r="1.3" fill="#1e1e1e" stroke="#b8b8b8" stroke-width="0.8"/>
<circle cx="1008.8" cy="16" r="1.3" fill="#1e1e1e" stroke="#b8b8b8" stroke-width="0.8"/>
<path d="M1019.5,15.5 L1024,10.8" stroke="#b8b8b8" stroke-width="1"/>
<text x="1018.6" y="79.9" text-anchor="end" font-size="8.5" font-weight="bold" fill="#d6d6d6" textLength="26.7" lengthAdjust="spacingAndGlyphs">1.14000</text>
<text x="1018.6" y="99.1" text-anchor="end" font-size="8.5" font-weight="bold" fill="#d6d6d6" textLength="26.7" lengthAdjust="spacingAndGlyphs">1.12000</text>
<text x="1018.6" y="118.5" text-anchor="end" font-size="8.5" font-weight="bold" fill="#d6d6d6" textLength="26.7" lengthAdjust="spacingAndGlyphs">1.10000</text>
<text x="1018.6" y="137.7" text-anchor="end" font-size="8.5" font-weight="bold" fill="#d6d6d6" textLength="26.7" lengthAdjust="spacingAndGlyphs">1.08000</text>
<text x="1018.6" y="156.7" text-anchor="end" font-size="8.5" font-weight="bold" fill="#d6d6d6" textLength="26.7" lengthAdjust="spacingAndGlyphs">1.06000</text>
<text x="1018.6" y="176.0" text-anchor="end" font-size="8.5" font-weight="bold" fill="#d6d6d6" textLength="26.7" lengthAdjust="spacingAndGlyphs">1.04000</text>
<text x="1018.6" y="195.2" text-anchor="end" font-size="8.5" font-weight="bold" fill="#d6d6d6" textLength="26.7" lengthAdjust="spacingAndGlyphs">1.02000</text>
<text x="1018.6" y="214.6" text-anchor="end" font-size="8.5" font-weight="bold" fill="#d6d6d6" textLength="26.7" lengthAdjust="spacingAndGlyphs">1.00000</text>
<text x="1018.6" y="253.1" text-anchor="end" font-size="8.5" font-weight="bold" fill="#d6d6d6" textLength="26.7" lengthAdjust="spacingAndGlyphs">0.96000</text>
<rect x="986.5" y="31.3" width="35" height="10.499999999999996" rx="0.5" fill="#2962ff"/><text x="1018.4" y="39.6" text-anchor="end" font-size="8.5" font-weight="bold" fill="#ffffff" textLength="26.4" lengthAdjust="spacingAndGlyphs">1.17566</text>
<rect x="986.5" y="42.4" width="35" height="9.899999999999999" rx="0.5" fill="#f7525f"/><text x="1018.4" y="50.4" text-anchor="end" font-size="8.5" font-weight="bold" fill="#ffffff" textLength="26.4" lengthAdjust="spacingAndGlyphs">1.17077</text>
<rect x="953.5" y="42.4" width="31.5" height="9.899999999999999" rx="1" fill="#f7525f"/><text x="969.2" y="50.4" text-anchor="middle" font-size="8.5" font-weight="bold" fill="#ffffff" textLength="27" lengthAdjust="spacingAndGlyphs">EURUSD</text>
<rect x="986.5" y="52.9" width="35" height="10.600000000000001" rx="0.5" fill="#f5dc1e"/><text x="1018.4" y="61.3" text-anchor="end" font-size="8.5" font-weight="normal" fill="#1a1a1a" textLength="26.4" lengthAdjust="spacingAndGlyphs">1.16594</text>
<rect x="972.2" y="224.7" width="13.8" height="13.1" rx="1.5" fill="#363a45"/>
<circle cx="979.1" cy="231.25" r="5" fill="none" stroke="#d8d8d8" stroke-width="0.9"/>
<path d="M976.6,231.25 h5 M979.1,228.75 v5" stroke="#e8e8e8" stroke-width="1"/>
<rect x="986.9" y="224.7" width="35" height="13.1" rx="1.5" fill="#363a45"/>
<text x="1018.1" y="234.4" text-anchor="end" font-size="8.5" font-weight="bold" fill="#f0f0f0" textLength="26.8" lengthAdjust="spacingAndGlyphs">0.98026</text>
<text x="24.0" y="281.9" text-anchor="middle" font-size="8.9" font-weight="bold" fill="#d6d6d6">11月</text>
<text x="64.6" y="281.9" text-anchor="middle" font-size="8.9" font-weight="bold" fill="#d6d6d6">2023</text>
<text x="110.0" y="281.9" text-anchor="middle" font-size="8.9" font-weight="bold" fill="#d6d6d6">3月</text>
<text x="150.6" y="281.9" text-anchor="middle" font-size="8.9" font-weight="bold" fill="#d6d6d6">5月</text>
<text x="196.4" y="281.9" text-anchor="middle" font-size="8.9" font-weight="bold" fill="#d6d6d6">7月</text>
<text x="241.9" y="281.9" text-anchor="middle" font-size="8.9" font-weight="bold" fill="#d6d6d6">9月</text>
<text x="287.9" y="281.9" text-anchor="middle" font-size="8.9" font-weight="bold" fill="#d6d6d6">11月</text>
<text x="328.5" y="281.9" text-anchor="middle" font-size="8.9" font-weight="bold" fill="#d6d6d6">2024</text>
<text x="373.4" y="281.9" text-anchor="middle" font-size="8.9" font-weight="bold" fill="#d6d6d6">3月</text>
<text x="419.0" y="281.9" text-anchor="middle" font-size="8.9" font-weight="bold" fill="#d6d6d6">5月</text>
<text x="459.9" y="281.9" text-anchor="middle" font-size="8.9" font-weight="bold" fill="#d6d6d6">7月</text>
<text x="505.4" y="281.9" text-anchor="middle" font-size="8.9" font-weight="bold" fill="#d6d6d6">9月</text>
<text x="597.2" y="281.9" text-anchor="middle" font-size="8.9" font-weight="bold" fill="#d6d6d6">2025</text>
<text x="637.6" y="281.9" text-anchor="middle" font-size="8.9" font-weight="bold" fill="#d6d6d6">3月</text>
<text x="683.0" y="281.9" text-anchor="middle" font-size="8.9" font-weight="bold" fill="#d6d6d6">5月</text>
<text x="728.4" y="281.9" text-anchor="middle" font-size="8.9" font-weight="bold" fill="#d6d6d6">7月</text>
<text x="768.2" y="281.9" text-anchor="middle" font-size="8.9" font-weight="bold" fill="#d6d6d6">9月</text>
<text x="815.2" y="281.9" text-anchor="middle" font-size="8.9" font-weight="bold" fill="#d6d6d6">11月</text>
<text x="860.9" y="281.9" text-anchor="middle" font-size="8.9" font-weight="bold" fill="#d6d6d6">2026</text>
<text x="901.0" y="281.9" text-anchor="middle" font-size="8.9" font-weight="bold" fill="#d6d6d6">3月</text>
<text x="946.8" y="281.9" text-anchor="middle" font-size="8.9" font-weight="bold" fill="#d6d6d6">5月</text>
<rect x="514" y="270" width="65" height="15" rx="1.5" fill="#363a45"/>
<text x="546.3" y="281.2" text-anchor="middle" font-size="8.2" fill="#f0f0f0" textLength="53.5" lengthAdjust="spacingAndGlyphs">2024-10-28 (月)</text>
<polygon points="1010.4,279.0 1008.1,283.0 1003.5,283.0 1001.2,279.0 1003.5,275.0 1008.1,275.0" fill="none" stroke="#9a9a9a" stroke-width="0.9"/><circle cx="1005.8" cy="279" r="1.7" fill="none" stroke="#9a9a9a" stroke-width="0.9"/>
<path d="M0,295 V293 A4,4 0 0 1 4,289 H1024" stroke="#8c8c8c" stroke-width="1.8" fill="none"/>
<g clip-path="url(#cBot)">
<line x1="0.90" y1="447.7" x2="0.90" y2="475.2" stroke="#f7525f" stroke-width="1" stroke-opacity="0.72"/>
<rect x="-0.60" y="455.0" width="3" height="18.6" fill="#f7525f"/>
<line x1="5.99" y1="456.6" x2="5.99" y2="479.2" stroke="#12c2d8" stroke-width="1" stroke-opacity="0.72"/>
<rect x="4.49" y="467.9" width="3" height="5.7" fill="#12c2d8"/>
<line x1="11.08" y1="468.7" x2="11.08" y2="510.5" stroke="#f7525f" stroke-width="1" stroke-opacity="0.72"/>
<rect x="9.58" y="483.0" width="3" height="24.6" fill="#f7525f"/>
<line x1="16.17" y1="480.4" x2="16.17" y2="507.6" stroke="#12c2d8" stroke-width="1" stroke-opacity="0.72"/>
<rect x="14.67" y="482.5" width="3" height="25.1" fill="#12c2d8"/>
<line x1="21.26" y1="463.0" x2="21.26" y2="487.3" stroke="#f7525f" stroke-width="1" stroke-opacity="0.72"/>
<rect x="19.76" y="483.6" width="3" height="1.6" fill="#f7525f"/>
<line x1="26.34" y1="472.0" x2="26.34" y2="486.5" stroke="#12c2d8" stroke-width="1" stroke-opacity="0.72"/>
<rect x="24.84" y="483.3" width="3" height="1.9" fill="#12c2d8"/>
<line x1="31.43" y1="474.4" x2="31.43" y2="495.4" stroke="#f7525f" stroke-width="1" stroke-opacity="0.72"/>
<rect x="29.93" y="483.3" width="3" height="5.2" fill="#f7525f"/>
<line x1="36.52" y1="459.0" x2="36.52" y2="486.2" stroke="#12c2d8" stroke-width="1" stroke-opacity="0.72"/>
<rect x="35.02" y="469.0" width="3" height="15.1" fill="#12c2d8"/>
<line x1="41.61" y1="458.2" x2="41.61" y2="474.4" stroke="#12c2d8" stroke-width="1" stroke-opacity="0.72"/>
<rect x="40.11" y="459.0" width="3" height="10.5" fill="#12c2d8"/>
<line x1="46.70" y1="439.9" x2="46.70" y2="459.8" stroke="#12c2d8" stroke-width="1" stroke-opacity="0.72"/>
<rect x="45.20" y="448.5" width="3" height="11.3" fill="#12c2d8"/>
<line x1="51.78" y1="444.7" x2="51.78" y2="465.5" stroke="#f7525f" stroke-width="1" stroke-opacity="0.72"/>
<rect x="50.28" y="448.5" width="3" height="12.4" fill="#f7525f"/>
<line x1="56.87" y1="437.6" x2="56.87" y2="460.9" stroke="#12c2d8" stroke-width="1" stroke-opacity="0.72"/>
<rect x="55.37" y="441.2" width="3" height="19.7" fill="#12c2d8"/>
<line x1="61.96" y1="427.4" x2="61.96" y2="441.1" stroke="#12c2d8" stroke-width="1" stroke-opacity="0.72"/>
<rect x="60.46" y="436.3" width="3" height="4.1" fill="#12c2d8"/>
<line x1="67.05" y1="429.8" x2="67.05" y2="449.7" stroke="#f7525f" stroke-width="1" stroke-opacity="0.72"/>
<rect x="65.55" y="436.3" width="3" height="13.4" fill="#f7525f"/>
<line x1="72.14" y1="445.2" x2="72.14" y2="458.9" stroke="#f7525f" stroke-width="1" stroke-opacity="0.72"/>
<rect x="70.64" y="449.2" width="3" height="8.9" fill="#f7525f"/>
<line x1="77.22" y1="435.1" x2="77.22" y2="476.7" stroke="#12c2d8" stroke-width="1" stroke-opacity="0.72"/>
<rect x="75.72" y="439.5" width="3" height="18.3" fill="#12c2d8"/>
<line x1="82.31" y1="433.8" x2="82.31" y2="451.7" stroke="#f7525f" stroke-width="1" stroke-opacity="0.72"/>
<rect x="80.81" y="440.0" width="3" height="4.4" fill="#f7525f"/>
<line x1="87.40" y1="420.1" x2="87.40" y2="444.4" stroke="#12c2d8" stroke-width="1" stroke-opacity="0.72"/>
<rect x="85.90" y="422.2" width="3" height="21.4" fill="#12c2d8"/>
<line x1="92.49" y1="418.5" x2="92.49" y2="439.5" stroke="#f7525f" stroke-width="1" stroke-opacity="0.72"/>
<rect x="90.99" y="422.2" width="3" height="17.3" fill="#f7525f"/>
<line x1="97.58" y1="423.8" x2="97.58" y2="441.1" stroke="#12c2d8" stroke-width="1" stroke-opacity="0.72"/>
<rect x="96.08" y="427.4" width="3" height="12.1" fill="#12c2d8"/>
<line x1="102.66" y1="409.2" x2="102.66" y2="430.6" stroke="#12c2d8" stroke-width="1" stroke-opacity="0.72"/>
<rect x="101.16" y="420.9" width="3" height="7.3" fill="#12c2d8"/>
<line x1="107.75" y1="417.7" x2="107.75" y2="437.9" stroke="#f7525f" stroke-width="1" stroke-opacity="0.72"/>
<rect x="106.25" y="421.2" width="3" height="12.6" fill="#f7525f"/>
<line x1="112.84" y1="422.2" x2="112.84" y2="435.5" stroke="#12c2d8" stroke-width="1" stroke-opacity="0.72"/>
<rect x="111.34" y="427.3" width="3" height="6.9" fill="#12c2d8"/>
<line x1="117.93" y1="420.4" x2="117.93" y2="437.8" stroke="#12c2d8" stroke-width="1" stroke-opacity="0.72"/>
<rect x="116.43" y="426.8" width="3" height="1.0" fill="#12c2d8"/>
<line x1="123.02" y1="408.2" x2="123.02" y2="430.4" stroke="#12c2d8" stroke-width="1" stroke-opacity="0.72"/>
<rect x="121.52" y="411.0" width="3" height="15.7" fill="#12c2d8"/>
<line x1="128.10" y1="377.0" x2="128.10" y2="411.8" stroke="#12c2d8" stroke-width="1" stroke-opacity="0.72"/>
<rect x="126.60" y="388.8" width="3" height="23.0" fill="#12c2d8"/>
<line x1="133.19" y1="380.7" x2="133.19" y2="411.0" stroke="#f7525f" stroke-width="1" stroke-opacity="0.72"/>
<rect x="131.69" y="388.8" width="3" height="7.1" fill="#f7525f"/>
<line x1="138.28" y1="380.7" x2="138.28" y2="402.4" stroke="#12c2d8" stroke-width="1" stroke-opacity="0.72"/>
<rect x="136.78" y="394.0" width="3" height="8.4" fill="#12c2d8"/>
<line x1="143.37" y1="389.1" x2="143.37" y2="413.4" stroke="#f7525f" stroke-width="1" stroke-opacity="0.72"/>
<rect x="141.87" y="394.0" width="3" height="19.4" fill="#f7525f"/>
<line x1="148.46" y1="400.8" x2="148.46" y2="417.0" stroke="#f7525f" stroke-width="1" stroke-opacity="0.72"/>
<rect x="146.96" y="412.6" width="3" height="1.0" fill="#f7525f"/>
<line x1="153.54" y1="407.7" x2="153.54" y2="420.2" stroke="#12c2d8" stroke-width="1" stroke-opacity="0.72"/>
<rect x="152.04" y="410.2" width="3" height="3.2" fill="#12c2d8"/>
<line x1="158.63" y1="397.6" x2="158.63" y2="409.9" stroke="#12c2d8" stroke-width="1" stroke-opacity="0.72"/>
<rect x="157.13" y="402.9" width="3" height="7.0" fill="#12c2d8"/>
<line x1="163.72" y1="389.1" x2="163.72" y2="418.6" stroke="#12c2d8" stroke-width="1" stroke-opacity="0.72"/>
<rect x="162.22" y="390.0" width="3" height="28.6" fill="#12c2d8"/>
<line x1="168.81" y1="374.9" x2="168.81" y2="390.4" stroke="#12c2d8" stroke-width="1" stroke-opacity="0.72"/>
<rect x="167.31" y="382.0" width="3" height="8.5" fill="#12c2d8"/>
<line x1="173.90" y1="368.9" x2="173.90" y2="386.6" stroke="#12c2d8" stroke-width="1" stroke-opacity="0.72"/>
<rect x="172.40" y="370.0" width="3" height="12.4" fill="#12c2d8"/>
<line x1="178.98" y1="350.1" x2="178.98" y2="371.1" stroke="#12c2d8" stroke-width="1" stroke-opacity="0.72"/>
<rect x="177.48" y="360.9" width="3" height="10.2" fill="#12c2d8"/>
<line x1="184.07" y1="348.0" x2="184.07" y2="364.7" stroke="#12c2d8" stroke-width="1" stroke-opacity="0.72"/>
<rect x="182.57" y="357.0" width="3" height="3.9" fill="#12c2d8"/>
<line x1="189.16" y1="339.6" x2="189.16" y2="359.0" stroke="#12c2d8" stroke-width="1" stroke-opacity="0.72"/>
<rect x="187.66" y="340.4" width="3" height="14.6" fill="#12c2d8"/>
<line x1="194.25" y1="330.2" x2="194.25" y2="345.7" stroke="#12c2d8" stroke-width="1" stroke-opacity="0.72"/>
<rect x="192.75" y="336.0" width="3" height="4.9" fill="#12c2d8"/>
<line x1="199.34" y1="335.0" x2="199.34" y2="349.3" stroke="#f7525f" stroke-width="1" stroke-opacity="0.72"/>
<rect x="197.84" y="336.0" width="3" height="1.6" fill="#f7525f"/>
<line x1="204.42" y1="335.0" x2="204.42" y2="356.6" stroke="#f7525f" stroke-width="1" stroke-opacity="0.72"/>
<rect x="202.92" y="337.1" width="3" height="10.2" fill="#f7525f"/>
<line x1="209.51" y1="340.4" x2="209.51" y2="348.5" stroke="#12c2d8" stroke-width="1" stroke-opacity="0.72"/>
<rect x="208.01" y="344.4" width="3" height="2.9" fill="#12c2d8"/>
<line x1="214.60" y1="340.4" x2="214.60" y2="363.5" stroke="#f7525f" stroke-width="1" stroke-opacity="0.72"/>
<rect x="213.10" y="342.0" width="3" height="17.0" fill="#f7525f"/>
<line x1="219.69" y1="345.2" x2="219.69" y2="364.7" stroke="#12c2d8" stroke-width="1" stroke-opacity="0.72"/>
<rect x="218.19" y="355.0" width="3" height="4.0" fill="#12c2d8"/>
<line x1="224.78" y1="354.1" x2="224.78" y2="363.0" stroke="#f7525f" stroke-width="1" stroke-opacity="0.72"/>
<rect x="223.28" y="355.0" width="3" height="1.6" fill="#f7525f"/>
<line x1="229.86" y1="349.1" x2="229.86" y2="368.8" stroke="#f7525f" stroke-width="1" stroke-opacity="0.72"/>
<rect x="228.36" y="356.4" width="3" height="4.6" fill="#f7525f"/>
<line x1="234.95" y1="357.8" x2="234.95" y2="368.0" stroke="#f7525f" stroke-width="1" stroke-opacity="0.72"/>
<rect x="233.45" y="361.1" width="3" height="2.9" fill="#f7525f"/>
<line x1="240.04" y1="361.6" x2="240.04" y2="371.3" stroke="#f7525f" stroke-width="1" stroke-opacity="0.72"/>
<rect x="238.54" y="365.3" width="3" height="3.5" fill="#f7525f"/>
<line x1="245.13" y1="363.2" x2="245.13" y2="385.8" stroke="#f7525f" stroke-width="1" stroke-opacity="0.72"/>
<rect x="243.63" y="368.8" width="3" height="16.2" fill="#f7525f"/>
<line x1="250.22" y1="355.1" x2="250.22" y2="392.8" stroke="#12c2d8" stroke-width="1" stroke-opacity="0.72"/>
<rect x="248.72" y="375.0" width="3" height="9.7" fill="#12c2d8"/>
<line x1="255.30" y1="374.5" x2="255.30" y2="394.4" stroke="#f7525f" stroke-width="1" stroke-opacity="0.72"/>
<rect x="253.80" y="374.5" width="3" height="11.3" fill="#f7525f"/>
<line x1="260.39" y1="368.0" x2="260.39" y2="386.3" stroke="#12c2d8" stroke-width="1" stroke-opacity="0.72"/>
<rect x="258.89" y="378.6" width="3" height="7.7" fill="#12c2d8"/>
<line x1="265.48" y1="357.2" x2="265.48" y2="381.0" stroke="#12c2d8" stroke-width="1" stroke-opacity="0.72"/>
<rect x="263.98" y="363.2" width="3" height="15.0" fill="#12c2d8"/>
<line x1="270.57" y1="346.2" x2="270.57" y2="365.6" stroke="#12c2d8" stroke-width="1" stroke-opacity="0.72"/>
<rect x="269.07" y="347.5" width="3" height="16.8" fill="#12c2d8"/>
<line x1="275.66" y1="343.0" x2="275.66" y2="357.5" stroke="#12c2d8" stroke-width="1" stroke-opacity="0.72"/>
<rect x="274.16" y="344.9" width="3" height="3.7" fill="#12c2d8"/>
<line x1="280.74" y1="340.0" x2="280.74" y2="353.5" stroke="#f7525f" stroke-width="1" stroke-opacity="0.72"/>
<rect x="279.24" y="344.9" width="3" height="5.6" fill="#f7525f"/>
<line x1="285.83" y1="345.9" x2="285.83" y2="359.1" stroke="#f7525f" stroke-width="1" stroke-opacity="0.72"/>
<rect x="284.33" y="349.7" width="3" height="2.3" fill="#f7525f"/>
<line x1="290.92" y1="344.0" x2="290.92" y2="388.1" stroke="#f7525f" stroke-width="1" stroke-opacity="0.72"/>
<rect x="289.42" y="347.2" width="3" height="40.9" fill="#f7525f"/>
<line x1="296.01" y1="385.4" x2="296.01" y2="403.0" stroke="#f7525f" stroke-width="1" stroke-opacity="0.72"/>
<rect x="294.51" y="387.2" width="3" height="10.4" fill="#f7525f"/>
<line x1="301.10" y1="390.8" x2="301.10" y2="431.2" stroke="#f7525f" stroke-width="1" stroke-opacity="0.72"/>
<rect x="299.60" y="397.0" width="3" height="34.2" fill="#f7525f"/>
<line x1="306.18" y1="417.4" x2="306.18" y2="433.0" stroke="#12c2d8" stroke-width="1" stroke-opacity="0.72"/>
<rect x="304.68" y="428.5" width="3" height="2.2" fill="#12c2d8"/>
<line x1="311.27" y1="385.4" x2="311.27" y2="433.6" stroke="#12c2d8" stroke-width="1" stroke-opacity="0.72"/>
<rect x="309.77" y="388.1" width="3" height="40.8" fill="#12c2d8"/>
<line x1="316.36" y1="385.4" x2="316.36" y2="395.8" stroke="#f7525f" stroke-width="1" stroke-opacity="0.72"/>
<rect x="314.86" y="387.2" width="3" height="5.0" fill="#f7525f"/>
<line x1="321.45" y1="388.1" x2="321.45" y2="401.2" stroke="#12c2d8" stroke-width="1" stroke-opacity="0.72"/>
<rect x="319.95" y="389.9" width="3" height="2.3" fill="#12c2d8"/>
<line x1="326.54" y1="368.3" x2="326.54" y2="392.2" stroke="#12c2d8" stroke-width="1" stroke-opacity="0.72"/>
<rect x="325.04" y="370.1" width="3" height="20.3" fill="#12c2d8"/>
<line x1="331.62" y1="361.1" x2="331.62" y2="381.8" stroke="#12c2d8" stroke-width="1" stroke-opacity="0.72"/>
<rect x="330.12" y="368.8" width="3" height="1.8" fill="#12c2d8"/>
<line x1="336.71" y1="365.9" x2="336.71" y2="375.5" stroke="#f7525f" stroke-width="1" stroke-opacity="0.72"/>
<rect x="335.21" y="368.5" width="3" height="6.8" fill="#f7525f"/>
<line x1="341.80" y1="366.6" x2="341.80" y2="386.8" stroke="#f7525f" stroke-width="1" stroke-opacity="0.72"/>
<rect x="340.30" y="374.7" width="3" height="7.2" fill="#f7525f"/>
<line x1="346.89" y1="361.2" x2="346.89" y2="384.4" stroke="#12c2d8" stroke-width="1" stroke-opacity="0.72"/>
<rect x="345.39" y="367.0" width="3" height="14.9" fill="#12c2d8"/>
<line x1="351.98" y1="353.6" x2="351.98" y2="367.7" stroke="#12c2d8" stroke-width="1" stroke-opacity="0.72"/>
<rect x="350.48" y="359.3" width="3" height="8.4" fill="#12c2d8"/>
<line x1="357.06" y1="357.3" x2="357.06" y2="376.3" stroke="#f7525f" stroke-width="1" stroke-opacity="0.72"/>
<rect x="355.56" y="359.3" width="3" height="14.9" fill="#f7525f"/>
<line x1="362.15" y1="356.9" x2="362.15" y2="373.8" stroke="#12c2d8" stroke-width="1" stroke-opacity="0.72"/>
<rect x="360.65" y="359.6" width="3" height="14.2" fill="#12c2d8"/>
<line x1="367.24" y1="357.3" x2="367.24" y2="370.6" stroke="#f7525f" stroke-width="1" stroke-opacity="0.72"/>
<rect x="365.74" y="358.0" width="3" height="12.6" fill="#f7525f"/>
<line x1="372.33" y1="362.5" x2="372.33" y2="375.5" stroke="#f7525f" stroke-width="1" stroke-opacity="0.72"/>
<rect x="370.83" y="369.8" width="3" height="4.9" fill="#f7525f"/>
<line x1="377.42" y1="367.0" x2="377.42" y2="378.7" stroke="#12c2d8" stroke-width="1" stroke-opacity="0.72"/>
<rect x="375.92" y="372.2" width="3" height="1.6" fill="#12c2d8"/>
<line x1="382.50" y1="369.8" x2="382.50" y2="383.6" stroke="#f7525f" stroke-width="1" stroke-opacity="0.72"/>
<rect x="381.00" y="371.9" width="3" height="11.7" fill="#f7525f"/>
<line x1="387.59" y1="350.4" x2="387.59" y2="388.4" stroke="#12c2d8" stroke-width="1" stroke-opacity="0.72"/>
<rect x="386.09" y="356.9" width="3" height="26.7" fill="#12c2d8"/>
<line x1="392.68" y1="355.2" x2="392.68" y2="383.6" stroke="#f7525f" stroke-width="1" stroke-opacity="0.72"/>
<rect x="391.18" y="355.9" width="3" height="25.6" fill="#f7525f"/>
<line x1="397.77" y1="369.0" x2="397.77" y2="383.5" stroke="#12c2d8" stroke-width="1" stroke-opacity="0.72"/>
<rect x="396.27" y="374.0" width="3" height="6.5" fill="#12c2d8"/>
<line x1="402.86" y1="373.0" x2="402.86" y2="390.8" stroke="#f7525f" stroke-width="1" stroke-opacity="0.72"/>
<rect x="401.36" y="374.3" width="3" height="1.9" fill="#f7525f"/>
<line x1="407.94" y1="361.3" x2="407.94" y2="377.8" stroke="#12c2d8" stroke-width="1" stroke-opacity="0.72"/>
<rect x="406.44" y="365.2" width="3" height="10.7" fill="#12c2d8"/>
<line x1="413.03" y1="359.2" x2="413.03" y2="371.4" stroke="#12c2d8" stroke-width="1" stroke-opacity="0.72"/>
<rect x="411.53" y="364.1" width="3" height="1.0" fill="#12c2d8"/>
<line x1="418.12" y1="352.3" x2="418.12" y2="364.6" stroke="#12c2d8" stroke-width="1" stroke-opacity="0.72"/>
<rect x="416.62" y="358.1" width="3" height="5.2" fill="#12c2d8"/>
<line x1="423.21" y1="356.5" x2="423.21" y2="380.3" stroke="#f7525f" stroke-width="1" stroke-opacity="0.72"/>
<rect x="421.71" y="358.1" width="3" height="17.8" fill="#f7525f"/>
<line x1="428.30" y1="365.2" x2="428.30" y2="381.9" stroke="#12c2d8" stroke-width="1" stroke-opacity="0.72"/>
<rect x="426.80" y="370.6" width="3" height="5.3" fill="#12c2d8"/>
<line x1="433.38" y1="368.1" x2="433.38" y2="377.0" stroke="#f7525f" stroke-width="1" stroke-opacity="0.72"/>
<rect x="431.88" y="370.6" width="3" height="2.1" fill="#f7525f"/>
<line x1="438.47" y1="346.8" x2="438.47" y2="373.3" stroke="#12c2d8" stroke-width="1" stroke-opacity="0.72"/>
<rect x="436.97" y="357.1" width="3" height="16.2" fill="#12c2d8"/>
<line x1="443.56" y1="345.5" x2="443.56" y2="360.0" stroke="#12c2d8" stroke-width="1" stroke-opacity="0.72"/>
<rect x="442.06" y="346.3" width="3" height="12.1" fill="#12c2d8"/>
<line x1="448.65" y1="341.9" x2="448.65" y2="360.0" stroke="#f7525f" stroke-width="1" stroke-opacity="0.72"/>
<rect x="447.15" y="346.3" width="3" height="12.4" fill="#f7525f"/>
<line x1="453.74" y1="353.6" x2="453.74" y2="363.8" stroke="#f7525f" stroke-width="1" stroke-opacity="0.72"/>
<rect x="452.24" y="359.2" width="3" height="3.9" fill="#f7525f"/>
<line x1="458.82" y1="350.2" x2="458.82" y2="369.9" stroke="#12c2d8" stroke-width="1" stroke-opacity="0.72"/>
<rect x="457.32" y="352.1" width="3" height="10.7" fill="#12c2d8"/>
<line x1="463.91" y1="349.4" x2="463.91" y2="359.9" stroke="#12c2d8" stroke-width="1" stroke-opacity="0.72"/>
<rect x="462.41" y="351.8" width="3" height="1.3" fill="#12c2d8"/>
<line x1="469.00" y1="342.9" x2="469.00" y2="356.7" stroke="#12c2d8" stroke-width="1" stroke-opacity="0.72"/>
<rect x="467.50" y="346.1" width="3" height="6.5" fill="#12c2d8"/>
<line x1="474.09" y1="319.1" x2="474.09" y2="347.0" stroke="#12c2d8" stroke-width="1" stroke-opacity="0.72"/>
<rect x="472.59" y="321.0" width="3" height="26.0" fill="#12c2d8"/>
<line x1="479.18" y1="308.9" x2="479.18" y2="334.3" stroke="#f7525f" stroke-width="1" stroke-opacity="0.72"/>
<rect x="477.68" y="321.0" width="3" height="13.3" fill="#f7525f"/>
<line x1="484.26" y1="325.9" x2="484.26" y2="345.3" stroke="#f7525f" stroke-width="1" stroke-opacity="0.72"/>
<rect x="482.76" y="334.0" width="3" height="6.5" fill="#f7525f"/>
<line x1="489.35" y1="338.8" x2="489.35" y2="353.4" stroke="#f7525f" stroke-width="1" stroke-opacity="0.72"/>
<rect x="487.85" y="340.1" width="3" height="10.9" fill="#f7525f"/>
<line x1="494.44" y1="335.9" x2="494.44" y2="353.4" stroke="#12c2d8" stroke-width="1" stroke-opacity="0.72"/>
<rect x="492.94" y="336.9" width="3" height="12.5" fill="#12c2d8"/>
<line x1="499.53" y1="331.6" x2="499.53" y2="341.8" stroke="#12c2d8" stroke-width="1" stroke-opacity="0.72"/>
<rect x="498.03" y="333.2" width="3" height="3.7" fill="#12c2d8"/>
<line x1="504.62" y1="333.2" x2="504.62" y2="354.2" stroke="#f7525f" stroke-width="1" stroke-opacity="0.72"/>
<rect x="503.12" y="333.2" width="3" height="19.4" fill="#f7525f"/>
<line x1="509.70" y1="347.8" x2="509.70" y2="373.7" stroke="#f7525f" stroke-width="1" stroke-opacity="0.72"/>
<rect x="508.20" y="352.0" width="3" height="17.7" fill="#f7525f"/>
<line x1="514.79" y1="359.1" x2="514.79" y2="370.5" stroke="#12c2d8" stroke-width="1" stroke-opacity="0.72"/>
<rect x="513.29" y="360.8" width="3" height="9.3" fill="#12c2d8"/>
<line x1="519.88" y1="347.8" x2="519.88" y2="360.8" stroke="#12c2d8" stroke-width="1" stroke-opacity="0.72"/>
<rect x="518.38" y="354.0" width="3" height="6.4" fill="#12c2d8"/>
<line x1="524.97" y1="346.2" x2="524.97" y2="358.3" stroke="#12c2d8" stroke-width="1" stroke-opacity="0.72"/>
<rect x="523.47" y="352.7" width="3" height="2.4" fill="#12c2d8"/>
<line x1="530.06" y1="342.1" x2="530.06" y2="356.7" stroke="#f7525f" stroke-width="1" stroke-opacity="0.72"/>
<rect x="528.56" y="352.7" width="3" height="1.6" fill="#f7525f"/>
<line x1="535.14" y1="347.0" x2="535.14" y2="364.3" stroke="#f7525f" stroke-width="1" stroke-opacity="0.72"/>
<rect x="533.64" y="354.0" width="3" height="3.8" fill="#f7525f"/>
<line x1="540.23" y1="347.0" x2="540.23" y2="357.5" stroke="#12c2d8" stroke-width="1" stroke-opacity="0.72"/>
<rect x="538.73" y="350.7" width="3" height="6.8" fill="#12c2d8"/>
<line x1="545.32" y1="354.3" x2="545.32" y2="372.1" stroke="#f7525f" stroke-width="1" stroke-opacity="0.72"/>
<rect x="543.82" y="355.9" width="3" height="3.2" fill="#f7525f"/>
<line x1="550.41" y1="357.8" x2="550.41" y2="373.4" stroke="#f7525f" stroke-width="1" stroke-opacity="0.72"/>
<rect x="548.91" y="359.1" width="3" height="12.7" fill="#f7525f"/>
<line x1="555.50" y1="369.7" x2="555.50" y2="384.7" stroke="#f7525f" stroke-width="1" stroke-opacity="0.72"/>
<rect x="554.00" y="370.8" width="3" height="7.8" fill="#f7525f"/>
<line x1="560.58" y1="372.9" x2="560.58" y2="398.0" stroke="#f7525f" stroke-width="1" stroke-opacity="0.72"/>
<rect x="559.08" y="378.0" width="3" height="15.0" fill="#f7525f"/>
<line x1="565.67" y1="377.3" x2="565.67" y2="394.5" stroke="#12c2d8" stroke-width="1" stroke-opacity="0.72"/>
<rect x="564.17" y="379.0" width="3" height="14.3" fill="#12c2d8"/>
<line x1="570.76" y1="377.4" x2="570.76" y2="393.6" stroke="#f7525f" stroke-width="1" stroke-opacity="0.72"/>
<rect x="569.26" y="380.3" width="3" height="12.4" fill="#f7525f"/>
<line x1="575.85" y1="381.4" x2="575.85" y2="397.6" stroke="#12c2d8" stroke-width="1" stroke-opacity="0.72"/>
<rect x="574.35" y="383.0" width="3" height="9.3" fill="#12c2d8"/>
<line x1="580.94" y1="372.5" x2="580.94" y2="383.5" stroke="#12c2d8" stroke-width="1" stroke-opacity="0.72"/>
<rect x="579.44" y="373.3" width="3" height="10.2" fill="#12c2d8"/>
<line x1="586.02" y1="362.8" x2="586.02" y2="373.8" stroke="#12c2d8" stroke-width="1" stroke-opacity="0.72"/>
<rect x="584.52" y="363.6" width="3" height="10.2" fill="#12c2d8"/>
<line x1="591.11" y1="354.4" x2="591.11" y2="372.5" stroke="#f7525f" stroke-width="1" stroke-opacity="0.72"/>
<rect x="589.61" y="364.1" width="3" height="8.4" fill="#f7525f"/>
<line x1="596.20" y1="366.9" x2="596.20" y2="374.9" stroke="#f7525f" stroke-width="1" stroke-opacity="0.72"/>
<rect x="594.70" y="369.3" width="3" height="5.6" fill="#f7525f"/>
<line x1="601.29" y1="371.7" x2="601.29" y2="384.7" stroke="#f7525f" stroke-width="1" stroke-opacity="0.72"/>
<rect x="599.79" y="374.5" width="3" height="10.2" fill="#f7525f"/>
<line x1="606.38" y1="379.0" x2="606.38" y2="389.5" stroke="#12c2d8" stroke-width="1" stroke-opacity="0.72"/>
<rect x="604.88" y="382.6" width="3" height="2.1" fill="#12c2d8"/>
<line x1="611.46" y1="379.8" x2="611.46" y2="387.4" stroke="#12c2d8" stroke-width="1" stroke-opacity="0.72"/>
<rect x="609.96" y="379.8" width="3" height="2.8" fill="#12c2d8"/>
<line x1="616.55" y1="372.8" x2="616.55" y2="383.8" stroke="#12c2d8" stroke-width="1" stroke-opacity="0.72"/>
<rect x="615.05" y="378.0" width="3" height="2.2" fill="#12c2d8"/>
<line x1="621.64" y1="372.3" x2="621.64" y2="380.0" stroke="#12c2d8" stroke-width="1" stroke-opacity="0.72"/>
<rect x="620.14" y="374.1" width="3" height="2.4" fill="#12c2d8"/>
<line x1="626.73" y1="368.3" x2="626.73" y2="378.5" stroke="#12c2d8" stroke-width="1" stroke-opacity="0.72"/>
<rect x="625.23" y="372.0" width="3" height="2.4" fill="#12c2d8"/>
<line x1="631.82" y1="368.8" x2="631.82" y2="389.8" stroke="#f7525f" stroke-width="1" stroke-opacity="0.72"/>
<rect x="630.32" y="372.0" width="3" height="13.0" fill="#f7525f"/>
<line x1="636.90" y1="376.0" x2="636.90" y2="396.8" stroke="#f7525f" stroke-width="1" stroke-opacity="0.72"/>
<rect x="635.40" y="384.1" width="3" height="8.9" fill="#f7525f"/>
<line x1="641.99" y1="389.8" x2="641.99" y2="402.7" stroke="#f7525f" stroke-width="1" stroke-opacity="0.72"/>
<rect x="640.49" y="392.2" width="3" height="7.8" fill="#f7525f"/>
<line x1="647.08" y1="398.4" x2="647.08" y2="406.5" stroke="#f7525f" stroke-width="1" stroke-opacity="0.72"/>
<rect x="645.58" y="401.1" width="3" height="2.5" fill="#f7525f"/>
<line x1="652.17" y1="400.3" x2="652.17" y2="413.3" stroke="#f7525f" stroke-width="1" stroke-opacity="0.72"/>
<rect x="650.67" y="402.8" width="3" height="9.7" fill="#f7525f"/>
<line x1="657.26" y1="407.6" x2="657.26" y2="414.9" stroke="#12c2d8" stroke-width="1" stroke-opacity="0.72"/>
<rect x="655.76" y="409.7" width="3" height="3.3" fill="#12c2d8"/>
<line x1="662.34" y1="395.5" x2="662.34" y2="410.4" stroke="#12c2d8" stroke-width="1" stroke-opacity="0.72"/>
<rect x="660.84" y="396.3" width="3" height="14.1" fill="#12c2d8"/>
<line x1="667.43" y1="386.1" x2="667.43" y2="401.1" stroke="#12c2d8" stroke-width="1" stroke-opacity="0.72"/>
<rect x="665.93" y="393.0" width="3" height="3.8" fill="#12c2d8"/>
<line x1="672.52" y1="389.0" x2="672.52" y2="397.9" stroke="#f7525f" stroke-width="1" stroke-opacity="0.72"/>
<rect x="671.02" y="393.8" width="3" height="2.5" fill="#f7525f"/>
<line x1="677.61" y1="383.2" x2="677.61" y2="396.2" stroke="#12c2d8" stroke-width="1" stroke-opacity="0.72"/>
<rect x="676.11" y="388.7" width="3" height="6.3" fill="#12c2d8"/>
<line x1="682.70" y1="385.1" x2="682.70" y2="393.2" stroke="#12c2d8" stroke-width="1" stroke-opacity="0.72"/>
<rect x="681.20" y="386.3" width="3" height="2.4" fill="#12c2d8"/>
<line x1="687.78" y1="370.6" x2="687.78" y2="388.4" stroke="#12c2d8" stroke-width="1" stroke-opacity="0.72"/>
<rect x="686.28" y="377.4" width="3" height="10.5" fill="#12c2d8"/>
<line x1="692.87" y1="370.9" x2="692.87" y2="380.3" stroke="#f7525f" stroke-width="1" stroke-opacity="0.72"/>
<rect x="691.37" y="376.6" width="3" height="3.2" fill="#f7525f"/>
<line x1="697.96" y1="379.0" x2="697.96" y2="387.4" stroke="#f7525f" stroke-width="1" stroke-opacity="0.72"/>
<rect x="696.46" y="379.0" width="3" height="7.8" fill="#f7525f"/>
<line x1="703.05" y1="382.2" x2="703.05" y2="390.3" stroke="#f7525f" stroke-width="1" stroke-opacity="0.72"/>
<rect x="701.55" y="386.3" width="3" height="3.2" fill="#f7525f"/>
<line x1="708.14" y1="384.7" x2="708.14" y2="400.8" stroke="#f7525f" stroke-width="1" stroke-opacity="0.72"/>
<rect x="706.64" y="389.0" width="3" height="11.0" fill="#f7525f"/>
<line x1="713.22" y1="396.5" x2="713.22" y2="407.3" stroke="#f7525f" stroke-width="1" stroke-opacity="0.72"/>
<rect x="711.72" y="399.2" width="3" height="2.8" fill="#f7525f"/>
<line x1="718.31" y1="396.0" x2="718.31" y2="408.5" stroke="#f7525f" stroke-width="1" stroke-opacity="0.72"/>
<rect x="716.81" y="401.3" width="3" height="4.9" fill="#f7525f"/>
<line x1="723.40" y1="396.0" x2="723.40" y2="408.1" stroke="#12c2d8" stroke-width="1" stroke-opacity="0.72"/>
<rect x="721.90" y="400.0" width="3" height="3.3" fill="#12c2d8"/>
<line x1="728.49" y1="387.1" x2="728.49" y2="404.9" stroke="#12c2d8" stroke-width="1" stroke-opacity="0.72"/>
<rect x="726.99" y="388.3" width="3" height="15.5" fill="#12c2d8"/>
<line x1="733.58" y1="383.8" x2="733.58" y2="396.0" stroke="#12c2d8" stroke-width="1" stroke-opacity="0.72"/>
<rect x="732.08" y="385.6" width="3" height="6.0" fill="#12c2d8"/>
<line x1="738.66" y1="381.5" x2="738.66" y2="391.2" stroke="#12c2d8" stroke-width="1" stroke-opacity="0.72"/>
<rect x="737.16" y="385.0" width="3" height="1.0" fill="#12c2d8"/>
<line x1="743.75" y1="382.1" x2="743.75" y2="394.4" stroke="#12c2d8" stroke-width="1" stroke-opacity="0.72"/>
<rect x="742.25" y="385.0" width="3" height="1.3" fill="#12c2d8"/>
<line x1="748.84" y1="372.4" x2="748.84" y2="386.7" stroke="#12c2d8" stroke-width="1" stroke-opacity="0.72"/>
<rect x="747.34" y="382.1" width="3" height="4.6" fill="#12c2d8"/>
<line x1="753.93" y1="378.2" x2="753.93" y2="383.4" stroke="#12c2d8" stroke-width="1" stroke-opacity="0.72"/>
<rect x="752.43" y="378.9" width="3" height="4.2" fill="#12c2d8"/>
<line x1="759.02" y1="366.4" x2="759.02" y2="379.4" stroke="#12c2d8" stroke-width="1" stroke-opacity="0.72"/>
<rect x="757.52" y="367.6" width="3" height="11.8" fill="#12c2d8"/>
<line x1="764.10" y1="365.3" x2="764.10" y2="374.5" stroke="#f7525f" stroke-width="1" stroke-opacity="0.72"/>
<rect x="762.60" y="368.0" width="3" height="6.0" fill="#f7525f"/>
<line x1="769.19" y1="368.0" x2="769.19" y2="377.3" stroke="#f7525f" stroke-width="1" stroke-opacity="0.72"/>
<rect x="767.69" y="373.4" width="3" height="1.0" fill="#f7525f"/>
<line x1="774.28" y1="367.2" x2="774.28" y2="377.3" stroke="#f7525f" stroke-width="1" stroke-opacity="0.72"/>
<rect x="772.78" y="373.7" width="3" height="1.6" fill="#f7525f"/>
<line x1="779.37" y1="371.2" x2="779.37" y2="380.5" stroke="#f7525f" stroke-width="1" stroke-opacity="0.72"/>
<rect x="777.87" y="375.6" width="3" height="2.9" fill="#f7525f"/>
<line x1="784.46" y1="361.0" x2="784.46" y2="378.5" stroke="#12c2d8" stroke-width="1" stroke-opacity="0.72"/>
<rect x="782.96" y="361.9" width="3" height="16.6" fill="#12c2d8"/>
<line x1="789.54" y1="346.1" x2="789.54" y2="362.7" stroke="#12c2d8" stroke-width="1" stroke-opacity="0.72"/>
<rect x="788.04" y="352.0" width="3" height="10.7" fill="#12c2d8"/>
<line x1="794.63" y1="349.0" x2="794.63" y2="355.8" stroke="#12c2d8" stroke-width="1" stroke-opacity="0.72"/>
<rect x="793.13" y="350.1" width="3" height="2.4" fill="#12c2d8"/>
<line x1="799.72" y1="344.1" x2="799.72" y2="353.3" stroke="#12c2d8" stroke-width="1" stroke-opacity="0.72"/>
<rect x="798.22" y="348.5" width="3" height="4.8" fill="#12c2d8"/>
<line x1="804.81" y1="336.0" x2="804.81" y2="350.9" stroke="#f7525f" stroke-width="1" stroke-opacity="0.72"/>
<rect x="803.31" y="348.5" width="3" height="2.4" fill="#f7525f"/>
<line x1="809.90" y1="346.4" x2="809.90" y2="355.0" stroke="#f7525f" stroke-width="1" stroke-opacity="0.72"/>
<rect x="808.40" y="349.6" width="3" height="2.1" fill="#f7525f"/>
<line x1="814.98" y1="346.0" x2="814.98" y2="359.0" stroke="#f7525f" stroke-width="1" stroke-opacity="0.72"/>
<rect x="813.48" y="350.9" width="3" height="5.2" fill="#f7525f"/>
<line x1="820.07" y1="351.7" x2="820.07" y2="359.8" stroke="#f7525f" stroke-width="1" stroke-opacity="0.72"/>
<rect x="818.57" y="356.1" width="3" height="3.2" fill="#f7525f"/>
<path d="M0.0,442.5 C1.8,443.0 7.8,444.5 10.5,445.5 C13.2,446.5 13.5,447.1 16.2,448.5 C18.8,449.9 23.0,452.1 26.4,453.8 C29.8,455.5 33.1,457.4 36.5,458.6 C39.9,459.8 43.5,460.4 46.7,460.9 C50.0,461.3 53.1,461.0 56.0,461.3 C58.9,461.6 61.3,462.3 64.0,462.6 C66.7,462.9 68.5,463.6 72.2,463.2 C75.9,462.8 82.3,460.9 85.9,460.3 C89.5,459.7 91.7,459.8 94.0,459.3 C96.3,458.8 97.8,458.3 100.0,457.5 C102.2,456.7 104.7,455.7 107.0,454.5 C109.3,453.3 111.6,452.0 114.0,450.5 C116.4,449.0 119.1,447.5 121.5,445.6 C123.9,443.7 126.1,441.2 128.5,439.0 C130.9,436.8 133.7,434.2 136.1,432.6 C138.5,431.0 140.6,430.3 143.0,429.2 C145.4,428.1 148.3,427.1 150.6,426.1 C152.9,425.1 154.8,424.1 157.0,423.0 C159.2,421.9 161.4,421.0 163.6,419.7 C165.8,418.4 167.8,416.6 170.0,415.0 C172.2,413.4 174.3,411.6 176.5,409.9 C178.7,408.2 180.8,406.6 183.0,404.8 C185.2,403.1 187.5,401.2 189.5,399.4 C191.5,397.6 193.2,395.7 195.0,394.0 C196.8,392.3 197.9,391.2 200.4,389.0 C202.9,386.8 207.1,383.2 210.1,381.0 C213.1,378.8 215.8,377.4 218.2,376.0 C220.6,374.6 222.4,373.5 224.7,372.6 C227.0,371.7 229.4,371.3 232.0,370.6 C234.6,369.9 236.1,369.9 240.2,368.6 C244.3,367.3 251.5,364.2 256.4,362.6 C261.2,361.0 265.5,360.0 269.3,359.1 C273.1,358.2 276.3,357.6 279.0,357.3 C281.7,357.0 283.7,357.1 285.5,357.4 C287.3,357.7 288.5,358.2 290.0,359.0 C291.5,359.8 292.5,360.5 294.4,362.0 C296.3,363.5 299.1,366.4 301.6,368.1 C304.2,369.8 306.4,371.0 309.7,372.4 C313.0,373.8 317.6,375.6 321.4,376.6 C325.1,377.6 328.4,377.8 332.2,378.2 C336.0,378.6 340.1,379.0 344.0,378.8 C347.9,378.6 351.9,377.4 355.4,377.0 C358.9,376.6 362.1,376.2 365.1,376.3 C368.1,376.4 370.5,376.8 373.2,377.4 C375.9,378.0 378.6,379.4 381.3,380.0 C384.0,380.6 387.1,381.0 389.4,381.1 C391.7,381.2 392.9,381.4 395.0,380.6 C397.1,379.9 399.0,377.9 401.7,376.6 C404.4,375.3 408.2,373.7 411.4,372.7 C414.6,371.7 417.6,370.9 421.1,370.4 C424.6,369.8 428.7,370.0 432.5,369.4 C436.3,368.8 439.9,367.5 443.8,367.0 C447.7,366.5 452.1,366.8 456.0,366.4 C459.9,366.0 463.3,365.9 467.4,364.7 C471.5,363.5 476.1,361.0 480.4,359.3 C484.7,357.6 489.5,355.9 493.3,354.7 C497.1,353.5 499.6,352.6 503.0,352.3 C506.4,352.0 510.0,352.8 513.7,352.6 C517.4,352.5 521.2,351.9 525.0,351.4 C528.8,350.9 533.1,350.0 536.4,349.6 C539.6,349.2 541.3,348.9 544.5,349.1 C547.7,349.3 551.9,349.9 555.8,351.0 C559.7,352.1 564.6,354.2 568.0,355.6 C571.4,357.0 573.2,358.1 576.2,359.2 C579.2,360.3 582.4,361.4 585.9,362.5 C589.4,363.6 593.4,364.8 597.2,366.0 C601.0,367.2 605.5,368.7 608.6,369.6 C611.7,370.5 613.4,370.7 616.0,371.2 C618.6,371.7 621.3,372.1 624.0,372.8 C626.7,373.5 628.7,374.4 632.2,375.6 C635.7,376.8 640.9,378.6 645.1,380.1 C649.3,381.6 653.5,383.7 657.3,384.6 C661.1,385.5 664.0,385.2 667.8,385.6 C671.6,386.0 676.6,386.5 680.0,386.8 C683.4,387.1 684.1,387.0 688.2,387.4 C692.3,387.8 699.5,388.2 704.4,389.0 C709.2,389.8 713.8,391.2 717.3,392.0 C720.8,392.8 722.9,393.4 725.4,393.8 C727.9,394.2 729.5,394.6 732.0,394.6 C734.5,394.6 737.4,394.4 740.2,394.0 C743.0,393.6 745.9,392.9 749.0,392.0 C752.1,391.1 755.5,389.6 758.8,388.6 C762.1,387.7 765.6,387.0 769.0,386.3 C772.4,385.6 775.7,385.2 779.2,384.5 C782.7,383.8 786.3,383.3 790.0,382.3 C793.7,381.3 798.3,379.4 801.4,378.3 C804.5,377.2 806.3,376.8 808.4,376.0 C810.5,375.2 812.1,374.4 814.0,373.5 C815.9,372.6 818.8,371.1 819.7,370.6" stroke="#d8bc22" stroke-width="1.6" fill="none"/>
</g>
<line x1="0" y1="347.6" x2="484" y2="347.6" stroke="#1f45b5" stroke-width="1"/>
<line x1="500.6" y1="347.6" x2="986" y2="347.6" stroke="#1f45b5" stroke-width="1"/>
<text x="486.9" y="350.2" font-size="9" font-weight="bold" fill="#e8e8e8" textLength="10.4" lengthAdjust="spacingAndGlyphs">W!</text>
<rect x="883.8" y="344.1" width="7.6" height="7.4" rx="1.8" fill="#000" stroke="#2962ff" stroke-width="1.6"/>
<line x1="0" y1="359.5" x2="953.5" y2="359.5" stroke="#742630" stroke-width="1" stroke-dasharray="1 1"/>
<line x1="0" y1="364.5" x2="953.5" y2="364.5" stroke="#b4b4b4" stroke-width="1.1"/>
<polyline points="651.1,416.1 660.8,394.7 674.9,400.3 687.3,378.0 717.0,410.9 733.7,388.6 746.1,398.5 763.4,369.3 780.7,382.7 800.0,348.4 817.2,363.8" stroke="#f2f2f2" stroke-width="1.45" fill="none" stroke-linejoin="round"/>
<line x1="1" y1="291" x2="1" y2="535" stroke="#6c6c6c" stroke-width="1.4" stroke-dasharray="2.6 4.4" stroke-dashoffset="1"/>
<text x="18" y="304.0" font-size="10.5" font-weight="700" fill="#d8d8d8" font-family="'Noto Sans CJK JP', sans-serif">ユーロ／米ドル</text><text x="93.3" y="303.0" font-size="9" fill="#d8d8d8" text-anchor="middle">·</text><text x="97.5" y="304.0" font-size="9.4" font-weight="bold" fill="#d8d8d8">1</text><text x="102.6" y="304.0" font-size="10.5" font-weight="700" fill="#d8d8d8" font-family="'Noto Sans CJK JP', sans-serif">日</text><text x="116.4" y="303.0" font-size="9" fill="#d8d8d8" text-anchor="middle">·</text><text x="120.8" y="304.0" font-size="8.9" font-weight="bold" fill="#d8d8d8" textLength="24.2" lengthAdjust="spacingAndGlyphs">FXCM</text><path d="M152.7,296.2 h7.6 l-2.4,3.9 l2.4,3.9 h-7.6 z" fill="#f7525f"/><circle cx="173.5" cy="300.1" r="5.6" fill="#232323"/><rect x="170.5" y="299.1" width="6" height="2" rx="1" fill="#a8a8a8"/>
<circle cx="12.6" cy="297.1" r="3.6" fill="#e8e8e8"/>
<path d="M12.6,293.5 A3.6,3.6 0 0 0 9,297.1 H12.6 Z" fill="#3b82d6"/>
<path d="M12.6,294.9 H16 M12.6,296.4 H16.2 M9.2,298 H16.2 M9.8,299.5 H15.4" stroke="#e0404a" stroke-width="0.7"/>
<circle cx="8.4" cy="301.2" r="4.1" fill="#2f6fbf" stroke="#000" stroke-width="0.6"/>
<circle cx="8.4" cy="301.2" r="2.1" fill="none" stroke="#d4c23a" stroke-width="0.6" stroke-dasharray="0.6 0.5"/>
<text x="4.5" y="319" font-size="8" font-weight="bold" fill="#e4e4e4" textLength="46" lengthAdjust="spacingAndGlyphs">SMA 20 close</text>
<circle cx="61.9" cy="315.8" r="5.6" fill="#3a10a0" opacity="0.28"/><circle cx="61.9" cy="315.8" r="3.5" fill="none" stroke="#6a2cf0" stroke-width="1.25"/><path d="M56.9,315.6 L59.9,315.6 L58.4,317.7 z" fill="#7a3cff"/><path d="M66.9,315.2 L63.9,315.2 L65.4,313.1 z" fill="#7a3cff"/>
<text x="4.5" y="334" font-size="8" fill="#4e4e4e" textLength="46" lengthAdjust="spacingAndGlyphs">SMA 75 close</text>
<path d="M57.0,331 Q62.2,323.8 67.4,331 Q62.2,338.2 57.0,331 z" stroke="#8a8a8a" stroke-width="0.9" fill="none"/><circle cx="62.2" cy="331" r="1.8" stroke="#8a8a8a" stroke-width="0.9" fill="none"/><line x1="58.6" y1="334.7" x2="65.8" y2="327.3" stroke="#8a8a8a" stroke-width="0.9"/>
<rect x="5.0" y="341.0" width="15.899999999999999" height="11.300000000000011" rx="2" fill="none" stroke="#2e2e2e" stroke-width="1"/><path d="M10.35,347.84999999999997 L12.95,345.45 L15.549999999999999,347.84999999999997" stroke="#b0b0b0" stroke-width="1.1" fill="none"/>
<g clip-path="url(#cBotAx)">
<text x="1018.6" y="293.4" text-anchor="end" font-size="8.5" font-weight="bold" fill="#d6d6d6" textLength="26.7" lengthAdjust="spacingAndGlyphs">1.20000</text>
<text x="1018.6" y="316.5" text-anchor="end" font-size="8.5" font-weight="bold" fill="#d6d6d6" textLength="26.7" lengthAdjust="spacingAndGlyphs">1.19000</text>
<text x="1018.6" y="340.2" text-anchor="end" font-size="8.5" font-weight="bold" fill="#d6d6d6" textLength="26.7" lengthAdjust="spacingAndGlyphs">1.18000</text>
<text x="1018.6" y="411.3" text-anchor="end" font-size="8.5" font-weight="bold" fill="#d6d6d6" textLength="26.7" lengthAdjust="spacingAndGlyphs">1.15000</text>
<text x="1018.6" y="434.9" text-anchor="end" font-size="8.5" font-weight="bold" fill="#d6d6d6" textLength="26.7" lengthAdjust="spacingAndGlyphs">1.14000</text>
<text x="1018.6" y="458.5" text-anchor="end" font-size="8.5" font-weight="bold" fill="#d6d6d6" textLength="26.7" lengthAdjust="spacingAndGlyphs">1.13000</text>
<text x="1018.6" y="482.1" text-anchor="end" font-size="8.5" font-weight="bold" fill="#d6d6d6" textLength="26.7" lengthAdjust="spacingAndGlyphs">1.12000</text>
<text x="1018.6" y="505.6" text-anchor="end" font-size="8.5" font-weight="bold" fill="#d6d6d6" textLength="26.7" lengthAdjust="spacingAndGlyphs">1.11000</text>
<text x="1018.6" y="529.3" text-anchor="end" font-size="8.5" font-weight="bold" fill="#d6d6d6" textLength="26.7" lengthAdjust="spacingAndGlyphs">1.10000</text>
<text x="1018.6" y="387.4" text-anchor="end" font-size="8.5" font-weight="bold" fill="#d6d6d6" textLength="26.7" lengthAdjust="spacingAndGlyphs">1.16000</text>
</g>
<rect x="986.5" y="342.8" width="35" height="9.899999999999977" rx="0.5" fill="#2962ff"/><text x="1018.4" y="350.9" text-anchor="end" font-size="8.5" font-weight="bold" fill="#ffffff" textLength="26.4" lengthAdjust="spacingAndGlyphs">1.17566</text>
<rect x="986.5" y="354.2" width="35" height="9.600000000000023" rx="0.5" fill="#f7525f"/><text x="1018.4" y="362.1" text-anchor="end" font-size="8.5" font-weight="bold" fill="#ffffff" textLength="26.4" lengthAdjust="spacingAndGlyphs">1.17077</text>
<rect x="953.5" y="354.2" width="31.5" height="9.600000000000023" rx="1" fill="#f7525f"/><text x="969.2" y="362.1" text-anchor="middle" font-size="8.5" font-weight="bold" fill="#ffffff" textLength="27" lengthAdjust="spacingAndGlyphs">EURUSD</text>
<rect x="986.5" y="365.1" width="35" height="9.5" rx="0.5" fill="#ffffff"/><text x="1018.4" y="373.0" text-anchor="end" font-size="8.5" font-weight="normal" fill="#2a2a2a" textLength="26.4" lengthAdjust="spacingAndGlyphs">1.16866</text>
<text x="975.3" y="374.1" text-anchor="middle" font-size="9" font-weight="bold" fill="#e8e8e8">D1</text>
<rect x="986.5" y="375.6" width="35" height="10.399999999999977" rx="0.5" fill="#f5dc1e"/><text x="1018.4" y="383.9" text-anchor="end" font-size="8.5" font-weight="normal" fill="#1a1a1a" textLength="26.4" lengthAdjust="spacingAndGlyphs">1.16583</text>
<rect x="1022.6" y="342.8" width="1.4" height="9.4" fill="#2962ff"/>
<text x="87.4" y="548.0" text-anchor="middle" font-size="8.9" font-weight="bold" fill="#d6d6d6">6月</text>
<text x="194.4" y="548.0" text-anchor="middle" font-size="8.9" font-weight="bold" fill="#d6d6d6">7月</text>
<text x="310.9" y="548.0" text-anchor="middle" font-size="8.9" font-weight="bold" fill="#d6d6d6">8月</text>
<text x="417.9" y="548.0" text-anchor="middle" font-size="8.9" font-weight="bold" fill="#d6d6d6">9月</text>
<text x="530.0" y="548.0" text-anchor="middle" font-size="8.9" font-weight="bold" fill="#d6d6d6">10月</text>
<text x="647.2" y="548.0" text-anchor="middle" font-size="8.9" font-weight="bold" fill="#d6d6d6">11月</text>
<text x="748.9" y="548.0" text-anchor="middle" font-size="8.9" font-weight="bold" fill="#d6d6d6">12月</text>
<text x="865.5" y="548.0" text-anchor="middle" font-size="8.9" font-weight="bold" fill="#d6d6d6">2026</text>
<text x="977.4" y="548.0" text-anchor="middle" font-size="8.9" font-weight="bold" fill="#d6d6d6">2月</text>
<rect x="0" y="535.4" width="63.3" height="15.6" rx="1.5" fill="#363a45"/>
<text x="30.8" y="547.3" text-anchor="middle" font-size="8.2" fill="#f0f0f0" textLength="52.5" lengthAdjust="spacingAndGlyphs">2025-05-08 (木)</text>
<polygon points="1010.5,544.7 1008.2,548.7 1003.6,548.7 1001.3,544.7 1003.6,540.7 1008.2,540.7" fill="none" stroke="#9a9a9a" stroke-width="0.9"/><circle cx="1005.9" cy="544.7" r="1.7" fill="none" stroke="#9a9a9a" stroke-width="0.9"/>
<path d="M5.9,517.1 H13.8 V526.8 H9.9 V520.9 H5.9 Z" fill="#e6e6e6"/>
<circle cx="17" cy="518.9" r="1.85" fill="#e6e6e6"/>
<path d="M21,517.1 H25.3 L22,526.8 H17.4 Z" fill="#e6e6e6"/>
<line x1="0" y1="552.8" x2="1024" y2="552.8" stroke="#8c8c8c" stroke-width="1.8"/>
<defs><clipPath id="cTop"><rect x="0" y="0" width="985" height="268"/></clipPath><clipPath id="cBotAx"><rect x="900" y="290.2" width="124" height="250"/></clipPath><clipPath id="cBot"><rect x="0" y="290" width="985" height="244"/></clipPath></defs>
</svg>
</body></html>
